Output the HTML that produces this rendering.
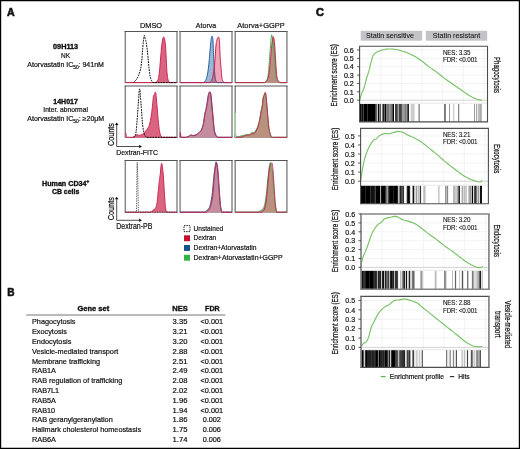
<!DOCTYPE html>
<html><head><meta charset="utf-8"><style>
html,body{margin:0;padding:0;background:#fff;}
svg{display:block;will-change:transform;}
text[transform]{stroke-width:0.22px;}
text[font-weight="bold"]{stroke-width:0.35px;}
text{font-family:"Liberation Sans", sans-serif;fill:#111;stroke:#111;stroke-width:0.2px;}
</style></head><body>
<svg width="520" height="449" viewBox="0 0 520 449">
<rect width="520" height="449" fill="#fff"/>
<path d="M0,0H520V1.2H0Z M0,0H1.2V449H0Z M518.8,0H520V449H518.8Z M0,447.8H520V449H0Z" fill="#000"/>
<text x="7" y="16" font-size="11.2" font-weight="bold" textLength="7.7" lengthAdjust="spacingAndGlyphs" style="stroke-width:0.6px">A</text>
<text x="7.2" y="296.2" font-size="11.2" font-weight="bold" textLength="7.3" lengthAdjust="spacingAndGlyphs" style="stroke-width:0.6px">B</text>
<text x="316" y="16.2" font-size="11.2" font-weight="bold" textLength="7.9" lengthAdjust="spacingAndGlyphs" style="stroke-width:0.6px">C</text>
<text x="65.6" y="49.1" font-size="7" font-weight="bold" text-anchor="middle" textLength="25.1" lengthAdjust="spacingAndGlyphs">09H113</text>
<text x="65.6" y="57.7" font-size="7" text-anchor="middle" textLength="9.0" lengthAdjust="spacingAndGlyphs">NK</text>
<text x="27.3" y="66.8" font-size="7" textLength="76.6" lengthAdjust="spacingAndGlyphs">Atorvastatin IC<tspan font-size="4.8" dy="1.9">50</tspan><tspan dy="-1.9">: 941nM</tspan></text>
<text x="65.6" y="103.9" font-size="7" font-weight="bold" text-anchor="middle" textLength="24.6" lengthAdjust="spacingAndGlyphs">14H017</text>
<text x="65.6" y="112.4" font-size="7" text-anchor="middle" textLength="44.6" lengthAdjust="spacingAndGlyphs">Inter. abnormal</text>
<text x="27.3" y="121.3" font-size="7" textLength="76.9" lengthAdjust="spacingAndGlyphs">Atorvastatin IC<tspan font-size="4.8" dy="1.9">50</tspan><tspan dy="-1.9">: ≥20μM</tspan></text>
<text x="42" y="185.8" font-size="7" font-weight="bold" textLength="47.2" lengthAdjust="spacingAndGlyphs">Human CD34<tspan font-size="4.5" dy="-2.6">+</tspan></text>
<text x="65.6" y="194.3" font-size="7" font-weight="bold" text-anchor="middle" textLength="27.4" lengthAdjust="spacingAndGlyphs">CB cells</text>
<text x="151" y="27.9" font-size="7.7" text-anchor="middle" textLength="22.2" lengthAdjust="spacingAndGlyphs">DMSO</text>
<text x="206" y="27.9" font-size="7.7" text-anchor="middle" textLength="20.3" lengthAdjust="spacingAndGlyphs">Atorva</text>
<text x="261" y="27.9" font-size="7.7" text-anchor="middle" textLength="47.3" lengthAdjust="spacingAndGlyphs">Atorva+GGPP</text>
<path d="M125.3,82.6 V31.45" stroke="#8a8a8a" stroke-width="1.5" fill="none"/>
<path d="M177.0,82.6 V31.45" stroke="#8a8a8a" stroke-width="1.5" fill="none"/>
<path d="M124.55,31.45 H177.75" stroke="#555" stroke-width="1.05" fill="none"/>
<path d="M124.55,82.6 H177.75" stroke="#8a8a8a" stroke-width="1.0" fill="none"/>
<path d="M180.1,82.6 V31.45" stroke="#8a8a8a" stroke-width="1.5" fill="none"/>
<path d="M232.0,82.6 V31.45" stroke="#8a8a8a" stroke-width="1.5" fill="none"/>
<path d="M179.35,31.45 H232.75" stroke="#555" stroke-width="1.05" fill="none"/>
<path d="M179.35,82.6 H232.75" stroke="#8a8a8a" stroke-width="1.0" fill="none"/>
<path d="M235.2,82.6 V31.45" stroke="#8a8a8a" stroke-width="1.5" fill="none"/>
<path d="M286.9,82.6 V31.45" stroke="#8a8a8a" stroke-width="1.5" fill="none"/>
<path d="M234.45,31.45 H287.65" stroke="#555" stroke-width="1.05" fill="none"/>
<path d="M234.45,82.6 H287.65" stroke="#8a8a8a" stroke-width="1.0" fill="none"/>
<path d="M125.3,137.35 V85.9" stroke="#8a8a8a" stroke-width="1.5" fill="none"/>
<path d="M177.0,137.35 V85.9" stroke="#8a8a8a" stroke-width="1.5" fill="none"/>
<path d="M124.55,85.9 H177.75" stroke="#555" stroke-width="1.05" fill="none"/>
<path d="M124.55,137.35 H177.75" stroke="#8a8a8a" stroke-width="1.0" fill="none"/>
<path d="M180.1,137.35 V85.9" stroke="#8a8a8a" stroke-width="1.5" fill="none"/>
<path d="M232.0,137.35 V85.9" stroke="#8a8a8a" stroke-width="1.5" fill="none"/>
<path d="M179.35,85.9 H232.75" stroke="#555" stroke-width="1.05" fill="none"/>
<path d="M179.35,137.35 H232.75" stroke="#8a8a8a" stroke-width="1.0" fill="none"/>
<path d="M235.2,137.35 V85.9" stroke="#8a8a8a" stroke-width="1.5" fill="none"/>
<path d="M286.9,137.35 V85.9" stroke="#8a8a8a" stroke-width="1.5" fill="none"/>
<path d="M234.45,85.9 H287.65" stroke="#555" stroke-width="1.05" fill="none"/>
<path d="M234.45,137.35 H287.65" stroke="#8a8a8a" stroke-width="1.0" fill="none"/>
<path d="M125.3,212.2 V160.5" stroke="#8a8a8a" stroke-width="1.5" fill="none"/>
<path d="M177.0,212.2 V160.5" stroke="#8a8a8a" stroke-width="1.5" fill="none"/>
<path d="M124.55,160.5 H177.75" stroke="#555" stroke-width="1.05" fill="none"/>
<path d="M124.55,212.2 H177.75" stroke="#8a8a8a" stroke-width="1.0" fill="none"/>
<path d="M180.1,212.2 V160.5" stroke="#8a8a8a" stroke-width="1.5" fill="none"/>
<path d="M232.0,212.2 V160.5" stroke="#8a8a8a" stroke-width="1.5" fill="none"/>
<path d="M179.35,160.5 H232.75" stroke="#555" stroke-width="1.05" fill="none"/>
<path d="M179.35,212.2 H232.75" stroke="#8a8a8a" stroke-width="1.0" fill="none"/>
<path d="M235.2,212.2 V160.5" stroke="#8a8a8a" stroke-width="1.5" fill="none"/>
<path d="M286.9,212.2 V160.5" stroke="#8a8a8a" stroke-width="1.5" fill="none"/>
<path d="M234.45,160.5 H287.65" stroke="#555" stroke-width="1.05" fill="none"/>
<path d="M234.45,212.2 H287.65" stroke="#8a8a8a" stroke-width="1.0" fill="none"/>
<path d="M125.30,82.60 L155.90,82.60 L156.15,82.31 L156.50,81.96 L156.91,81.52 L157.34,80.96 L157.75,80.27 L158.10,79.40 L158.38,78.41 L158.63,77.31 L158.85,76.08 L159.06,74.66 L159.28,73.02 L159.50,71.10 L159.74,68.77 L159.97,66.03 L160.21,63.07 L160.45,60.06 L160.68,57.17 L160.90,54.60 L161.11,52.29 L161.30,50.10 L161.49,48.04 L161.69,46.12 L161.88,44.37 L162.10,42.80 L162.33,41.34 L162.57,39.96 L162.82,38.74 L163.08,37.77 L163.34,37.13 L163.60,36.90 L163.87,37.13 L164.16,37.77 L164.44,38.74 L164.72,39.96 L164.98,41.34 L165.20,42.80 L165.38,44.38 L165.53,46.17 L165.65,48.11 L165.76,50.19 L165.88,52.36 L166.00,54.60 L166.13,57.02 L166.26,59.68 L166.39,62.43 L166.52,65.14 L166.66,67.68 L166.80,69.90 L166.95,71.81 L167.10,73.53 L167.26,75.07 L167.42,76.45 L167.60,77.69 L167.80,78.80 L168.04,79.77 L168.32,80.59 L168.61,81.26 L168.89,81.80 L169.13,82.25 L169.30,82.60 L177.00,82.60 L177.0,82.89999999999999 L125.3,82.89999999999999 Z" fill="#da6480"/>
<path d="M125.30,82.60 L155.90,82.60 L156.15,82.31 L156.50,81.96 L156.91,81.52 L157.34,80.96 L157.75,80.27 L158.10,79.40 L158.38,78.41 L158.63,77.31 L158.85,76.08 L159.06,74.66 L159.28,73.02 L159.50,71.10 L159.74,68.77 L159.97,66.03 L160.21,63.07 L160.45,60.06 L160.68,57.17 L160.90,54.60 L161.11,52.29 L161.30,50.10 L161.49,48.04 L161.69,46.12 L161.88,44.37 L162.10,42.80 L162.33,41.34 L162.57,39.96 L162.82,38.74 L163.08,37.77 L163.34,37.13 L163.60,36.90 L163.87,37.13 L164.16,37.77 L164.44,38.74 L164.72,39.96 L164.98,41.34 L165.20,42.80 L165.38,44.38 L165.53,46.17 L165.65,48.11 L165.76,50.19 L165.88,52.36 L166.00,54.60 L166.13,57.02 L166.26,59.68 L166.39,62.43 L166.52,65.14 L166.66,67.68 L166.80,69.90 L166.95,71.81 L167.10,73.53 L167.26,75.07 L167.42,76.45 L167.60,77.69 L167.80,78.80 L168.04,79.77 L168.32,80.59 L168.61,81.26 L168.89,81.80 L169.13,82.25 L169.30,82.60 L177.00,82.60" fill="none" stroke="#cc2450" stroke-width="1.0" stroke-linejoin="round"/>
<path d="M133.50,82.60 L133.83,82.27 L134.30,81.83 L134.86,81.29 L135.44,80.70 L136.01,80.06 L136.50,79.40 L136.93,78.72 L137.34,77.99 L137.72,77.22 L138.10,76.41 L138.45,75.57 L138.80,74.70 L139.14,73.81 L139.46,72.91 L139.77,71.97 L140.06,70.99 L140.34,69.94 L140.60,68.80 L140.84,67.60 L141.06,66.34 L141.26,65.02 L141.44,63.61 L141.62,62.11 L141.80,60.50 L141.97,58.71 L142.12,56.73 L142.27,54.66 L142.41,52.57 L142.55,50.56 L142.70,48.70 L142.85,46.95 L143.01,45.22 L143.17,43.57 L143.33,42.03 L143.47,40.66 L143.60,39.50 L143.71,38.58 L143.80,37.87 L143.89,37.32 L143.96,36.89 L144.03,36.53 L144.10,36.20 L144.16,35.91 L144.21,35.69 L144.26,35.54 L144.30,35.46 L144.35,35.45 L144.40,35.50 L144.46,35.63 L144.51,35.86 L144.58,36.14 L144.64,36.48 L144.71,36.84 L144.80,37.20 L144.90,37.59 L145.01,38.01 L145.14,38.47 L145.26,38.93 L145.39,39.38 L145.50,39.80 L145.60,40.14 L145.69,40.40 L145.78,40.64 L145.87,40.95 L145.98,41.38 L146.10,42.00 L146.24,42.80 L146.40,43.71 L146.56,44.75 L146.74,45.92 L146.92,47.24 L147.10,48.70 L147.29,50.41 L147.50,52.39 L147.71,54.50 L147.92,56.64 L148.12,58.68 L148.30,60.50 L148.45,62.10 L148.59,63.57 L148.71,64.95 L148.83,66.26 L148.96,67.53 L149.10,68.80 L149.25,70.07 L149.41,71.33 L149.58,72.56 L149.75,73.72 L149.93,74.81 L150.10,75.80 L150.27,76.68 L150.43,77.47 L150.60,78.17 L150.78,78.82 L150.97,79.42 L151.20,80.00 L151.48,80.56 L151.81,81.08 L152.17,81.56 L152.51,81.99 L152.80,82.34 L153.00,82.60 L177.00,82.60" fill="none" stroke="#000" stroke-width="1.0" stroke-dasharray="1.8 0.9" stroke-linejoin="round"/>
<path d="M180.10,82.60 L203.90,82.60 L204.17,82.23 L204.55,81.76 L204.99,81.18 L205.46,80.50 L205.91,79.70 L206.30,78.80 L206.63,77.78 L206.94,76.63 L207.23,75.38 L207.50,74.03 L207.75,72.60 L208.00,71.10 L208.23,69.52 L208.44,67.83 L208.64,66.06 L208.83,64.23 L209.02,62.37 L209.20,60.50 L209.38,58.56 L209.56,56.53 L209.72,54.46 L209.89,52.42 L210.05,50.48 L210.20,48.70 L210.34,47.07 L210.48,45.52 L210.61,44.07 L210.73,42.73 L210.86,41.50 L211.00,40.40 L211.14,39.39 L211.29,38.46 L211.44,37.64 L211.59,36.99 L211.74,36.52 L211.90,36.30 L212.07,36.32 L212.25,36.54 L212.43,36.96 L212.61,37.56 L212.77,38.35 L212.90,39.30 L213.00,40.47 L213.07,41.87 L213.12,43.45 L213.17,45.15 L213.23,46.92 L213.30,48.70 L213.39,50.54 L213.49,52.50 L213.59,54.52 L213.69,56.57 L213.80,58.58 L213.90,60.50 L214.00,62.36 L214.09,64.21 L214.17,66.02 L214.27,67.78 L214.38,69.48 L214.50,71.10 L214.64,72.68 L214.79,74.23 L214.95,75.71 L215.12,77.10 L215.31,78.34 L215.50,79.40 L215.73,80.27 L215.99,80.96 L216.26,81.52 L216.52,81.96 L216.74,82.31 L216.90,82.60 L232.00,82.60 L232.0,82.89999999999999 L180.1,82.89999999999999 Z" fill="rgb(30,95,160)" fill-opacity="0.45"/>
<path d="M180.10,82.60 L203.90,82.60 L204.17,82.23 L204.55,81.76 L204.99,81.18 L205.46,80.50 L205.91,79.70 L206.30,78.80 L206.63,77.78 L206.94,76.63 L207.23,75.38 L207.50,74.03 L207.75,72.60 L208.00,71.10 L208.23,69.52 L208.44,67.83 L208.64,66.06 L208.83,64.23 L209.02,62.37 L209.20,60.50 L209.38,58.56 L209.56,56.53 L209.72,54.46 L209.89,52.42 L210.05,50.48 L210.20,48.70 L210.34,47.07 L210.48,45.52 L210.61,44.07 L210.73,42.73 L210.86,41.50 L211.00,40.40 L211.14,39.39 L211.29,38.46 L211.44,37.64 L211.59,36.99 L211.74,36.52 L211.90,36.30 L212.07,36.32 L212.25,36.54 L212.43,36.96 L212.61,37.56 L212.77,38.35 L212.90,39.30 L213.00,40.47 L213.07,41.87 L213.12,43.45 L213.17,45.15 L213.23,46.92 L213.30,48.70 L213.39,50.54 L213.49,52.50 L213.59,54.52 L213.69,56.57 L213.80,58.58 L213.90,60.50 L214.00,62.36 L214.09,64.21 L214.17,66.02 L214.27,67.78 L214.38,69.48 L214.50,71.10 L214.64,72.68 L214.79,74.23 L214.95,75.71 L215.12,77.10 L215.31,78.34 L215.50,79.40 L215.73,80.27 L215.99,80.96 L216.26,81.52 L216.52,81.96 L216.74,82.31 L216.90,82.60 L232.00,82.60" fill="none" stroke="#1f5e9e" stroke-width="1.0" stroke-linejoin="round"/>
<path d="M180.10,82.60 L209.80,82.60 L210.07,82.24 L210.45,81.80 L210.89,81.25 L211.36,80.58 L211.81,79.77 L212.20,78.80 L212.53,77.66 L212.84,76.35 L213.12,74.90 L213.40,73.34 L213.65,71.70 L213.90,70.00 L214.13,68.21 L214.35,66.29 L214.56,64.29 L214.75,62.25 L214.93,60.21 L215.10,58.20 L215.25,56.16 L215.39,54.04 L215.51,51.91 L215.63,49.86 L215.76,47.97 L215.90,46.30 L216.05,44.87 L216.20,43.63 L216.36,42.53 L216.53,41.56 L216.71,40.69 L216.90,39.90 L217.11,39.17 L217.35,38.51 L217.60,37.96 L217.85,37.53 L218.09,37.24 L218.30,37.10 L218.50,37.09 L218.68,37.20 L218.86,37.44 L219.02,37.85 L219.17,38.46 L219.30,39.30 L219.41,40.42 L219.50,41.81 L219.58,43.40 L219.64,45.12 L219.72,46.91 L219.80,48.70 L219.89,50.54 L219.98,52.50 L220.08,54.52 L220.17,56.57 L220.28,58.58 L220.40,60.50 L220.53,62.36 L220.68,64.21 L220.83,66.02 L220.99,67.78 L221.15,69.48 L221.30,71.10 L221.44,72.68 L221.57,74.23 L221.69,75.71 L221.83,77.10 L222.00,78.34 L222.20,79.40 L222.47,80.27 L222.80,80.96 L223.16,81.52 L223.50,81.96 L223.79,82.31 L224.00,82.60 L232.00,82.60 L232.0,82.89999999999999 L180.1,82.89999999999999 Z" fill="rgb(210,30,75)" fill-opacity="0.4"/>
<path d="M180.10,82.60 L209.80,82.60 L210.07,82.24 L210.45,81.80 L210.89,81.25 L211.36,80.58 L211.81,79.77 L212.20,78.80 L212.53,77.66 L212.84,76.35 L213.12,74.90 L213.40,73.34 L213.65,71.70 L213.90,70.00 L214.13,68.21 L214.35,66.29 L214.56,64.29 L214.75,62.25 L214.93,60.21 L215.10,58.20 L215.25,56.16 L215.39,54.04 L215.51,51.91 L215.63,49.86 L215.76,47.97 L215.90,46.30 L216.05,44.87 L216.20,43.63 L216.36,42.53 L216.53,41.56 L216.71,40.69 L216.90,39.90 L217.11,39.17 L217.35,38.51 L217.60,37.96 L217.85,37.53 L218.09,37.24 L218.30,37.10 L218.50,37.09 L218.68,37.20 L218.86,37.44 L219.02,37.85 L219.17,38.46 L219.30,39.30 L219.41,40.42 L219.50,41.81 L219.58,43.40 L219.64,45.12 L219.72,46.91 L219.80,48.70 L219.89,50.54 L219.98,52.50 L220.08,54.52 L220.17,56.57 L220.28,58.58 L220.40,60.50 L220.53,62.36 L220.68,64.21 L220.83,66.02 L220.99,67.78 L221.15,69.48 L221.30,71.10 L221.44,72.68 L221.57,74.23 L221.69,75.71 L221.83,77.10 L222.00,78.34 L222.20,79.40 L222.47,80.27 L222.80,80.96 L223.16,81.52 L223.50,81.96 L223.79,82.31 L224.00,82.60 L232.00,82.60" fill="none" stroke="#cc2450" stroke-width="1.0" stroke-linejoin="round"/>
<path d="M235.20,82.60 L264.40,82.60 L264.67,82.41 L265.04,82.18 L265.49,81.89 L265.96,81.54 L266.41,81.11 L266.80,80.60 L267.14,80.03 L267.47,79.41 L267.78,78.72 L268.07,77.92 L268.34,76.99 L268.60,75.90 L268.84,74.62 L269.05,73.17 L269.24,71.59 L269.43,69.91 L269.61,68.17 L269.80,66.40 L269.99,64.57 L270.17,62.64 L270.35,60.64 L270.53,58.62 L270.71,56.59 L270.90,54.60 L271.09,52.57 L271.29,50.46 L271.49,48.34 L271.70,46.31 L271.90,44.44 L272.10,42.80 L272.30,41.31 L272.50,39.89 L272.70,38.63 L272.90,37.62 L273.10,36.94 L273.30,36.70 L273.50,36.94 L273.71,37.62 L273.93,38.63 L274.13,39.89 L274.32,41.31 L274.50,42.80 L274.66,44.44 L274.80,46.31 L274.93,48.34 L275.06,50.46 L275.18,52.57 L275.30,54.60 L275.42,56.59 L275.54,58.62 L275.65,60.64 L275.76,62.64 L275.88,64.57 L276.00,66.40 L276.12,68.17 L276.24,69.91 L276.37,71.59 L276.50,73.17 L276.64,74.62 L276.80,75.90 L276.96,76.99 L277.13,77.92 L277.30,78.72 L277.50,79.41 L277.73,80.03 L278.00,80.60 L278.36,81.11 L278.80,81.54 L279.27,81.89 L279.73,82.18 L280.12,82.41 L280.40,82.60 L286.90,82.60 L286.9,82.89999999999999 L235.2,82.89999999999999 Z" fill="#b68f80"/>
<path d="M235.20,82.60 L265.00,82.60 L265.27,82.23 L265.67,81.76 L266.12,81.18 L266.60,80.50 L267.04,79.70 L267.40,78.80 L267.67,77.78 L267.90,76.63 L268.10,75.38 L268.27,74.03 L268.44,72.60 L268.60,71.10 L268.76,69.52 L268.89,67.83 L269.02,66.06 L269.14,64.23 L269.27,62.37 L269.40,60.50 L269.54,58.62 L269.68,56.72 L269.82,54.79 L269.97,52.81 L270.13,50.78 L270.30,48.70 L270.48,46.32 L270.68,43.61 L270.89,40.86 L271.10,38.33 L271.30,36.32 L271.50,35.10 L271.69,34.80 L271.87,35.22 L272.04,36.16 L272.22,37.40 L272.41,38.75 L272.60,40.00 L272.81,41.19 L273.03,42.50 L273.26,43.92 L273.48,45.43 L273.70,47.03 L273.90,48.70 L274.09,50.50 L274.26,52.45 L274.43,54.48 L274.59,56.54 L274.75,58.57 L274.90,60.50 L275.04,62.37 L275.18,64.23 L275.31,66.06 L275.43,67.83 L275.56,69.52 L275.70,71.10 L275.82,72.60 L275.92,74.03 L276.02,75.38 L276.15,76.63 L276.33,77.78 L276.60,78.80 L277.00,79.70 L277.53,80.50 L278.11,81.18 L278.67,81.76 L279.16,82.23 L279.50,82.60 L286.90,82.60" fill="none" stroke="#35b34a" stroke-width="1.0" stroke-linejoin="round"/>
<path d="M235.20,82.60 L264.40,82.60 L264.67,82.41 L265.04,82.18 L265.49,81.89 L265.96,81.54 L266.41,81.11 L266.80,80.60 L267.14,80.03 L267.47,79.41 L267.78,78.72 L268.07,77.92 L268.34,76.99 L268.60,75.90 L268.84,74.62 L269.05,73.17 L269.24,71.59 L269.43,69.91 L269.61,68.17 L269.80,66.40 L269.99,64.57 L270.17,62.64 L270.35,60.64 L270.53,58.62 L270.71,56.59 L270.90,54.60 L271.09,52.57 L271.29,50.46 L271.49,48.34 L271.70,46.31 L271.90,44.44 L272.10,42.80 L272.30,41.31 L272.50,39.89 L272.70,38.63 L272.90,37.62 L273.10,36.94 L273.30,36.70 L273.50,36.94 L273.71,37.62 L273.93,38.63 L274.13,39.89 L274.32,41.31 L274.50,42.80 L274.66,44.44 L274.80,46.31 L274.93,48.34 L275.06,50.46 L275.18,52.57 L275.30,54.60 L275.42,56.59 L275.54,58.62 L275.65,60.64 L275.76,62.64 L275.88,64.57 L276.00,66.40 L276.12,68.17 L276.24,69.91 L276.37,71.59 L276.50,73.17 L276.64,74.62 L276.80,75.90 L276.96,76.99 L277.13,77.92 L277.30,78.72 L277.50,79.41 L277.73,80.03 L278.00,80.60 L278.36,81.11 L278.80,81.54 L279.27,81.89 L279.73,82.18 L280.12,82.41 L280.40,82.60 L286.90,82.60" fill="none" stroke="#cc2450" stroke-width="1.0" stroke-linejoin="round"/>
<path d="M125.50,132.40 L125.54,132.49 L125.59,132.58 L125.66,132.71 L125.73,132.89 L125.81,133.14 L125.90,133.50 L125.98,134.03 L126.06,134.72 L126.14,135.49 L126.25,136.25 L126.40,136.90 L126.60,137.35 L126.84,137.35 L127.10,137.35 L127.40,137.35 L127.76,137.35 L128.18,137.35 L128.70,137.35 L129.36,137.35 L130.16,137.35 L131.03,137.35 L131.91,137.35 L132.72,137.35 L133.40,137.35 L133.95,137.11 L134.41,136.76 L134.82,136.36 L135.17,135.95 L135.50,135.58 L135.80,135.30 L136.06,135.10 L136.25,134.95 L136.41,134.83 L136.56,134.76 L136.75,134.71 L137.00,134.70 L137.32,134.75 L137.68,134.86 L138.08,135.01 L138.49,135.15 L138.90,135.26 L139.30,135.30 L139.69,135.27 L140.09,135.19 L140.49,135.07 L140.90,134.93 L141.30,134.77 L141.70,134.60 L142.11,134.42 L142.53,134.22 L142.94,134.01 L143.35,133.77 L143.74,133.50 L144.10,133.20 L144.42,132.86 L144.71,132.47 L144.99,132.06 L145.25,131.63 L145.52,131.21 L145.80,130.80 L146.09,130.43 L146.39,130.07 L146.69,129.72 L147.00,129.36 L147.30,128.96 L147.60,128.50 L147.90,128.01 L148.21,127.52 L148.52,126.99 L148.82,126.40 L149.12,125.71 L149.40,124.90 L149.67,123.95 L149.93,122.87 L150.19,121.69 L150.43,120.46 L150.67,119.18 L150.90,117.90 L151.12,116.59 L151.34,115.23 L151.54,113.83 L151.74,112.41 L151.93,111.00 L152.10,109.60 L152.26,108.18 L152.40,106.72 L152.54,105.26 L152.66,103.84 L152.78,102.51 L152.90,101.30 L153.01,100.20 L153.10,99.18 L153.19,98.24 L153.29,97.39 L153.38,96.64 L153.50,96.00 L153.63,95.51 L153.77,95.19 L153.93,94.96 L154.08,94.77 L154.24,94.57 L154.40,94.30 L154.56,93.90 L154.74,93.40 L154.91,92.89 L155.09,92.44 L155.25,92.15 L155.40,92.10 L155.53,92.25 L155.65,92.52 L155.76,92.94 L155.86,93.55 L155.98,94.36 L156.10,95.40 L156.24,96.74 L156.38,98.38 L156.53,100.22 L156.69,102.18 L156.84,104.17 L157.00,106.10 L157.16,108.04 L157.33,110.09 L157.51,112.16 L157.68,114.19 L157.84,116.13 L158.00,117.90 L158.14,119.50 L158.28,120.99 L158.41,122.37 L158.53,123.67 L158.66,124.91 L158.80,126.10 L158.94,127.24 L159.09,128.32 L159.23,129.34 L159.38,130.29 L159.54,131.18 L159.70,132.00 L159.87,132.75 L160.04,133.44 L160.21,134.06 L160.40,134.62 L160.59,135.13 L160.80,135.60 L161.04,136.02 L161.33,136.39 L161.62,136.70 L161.90,136.96 L162.13,137.18 L162.30,137.35 L177.00,137.35 L177.0,137.65 L125.3,137.65 Z" fill="#da6480"/>
<path d="M125.50,132.40 L125.54,132.49 L125.59,132.58 L125.66,132.71 L125.73,132.89 L125.81,133.14 L125.90,133.50 L125.98,134.03 L126.06,134.72 L126.14,135.49 L126.25,136.25 L126.40,136.90 L126.60,137.35 L126.84,137.35 L127.10,137.35 L127.40,137.35 L127.76,137.35 L128.18,137.35 L128.70,137.35 L129.36,137.35 L130.16,137.35 L131.03,137.35 L131.91,137.35 L132.72,137.35 L133.40,137.35 L133.95,137.11 L134.41,136.76 L134.82,136.36 L135.17,135.95 L135.50,135.58 L135.80,135.30 L136.06,135.10 L136.25,134.95 L136.41,134.83 L136.56,134.76 L136.75,134.71 L137.00,134.70 L137.32,134.75 L137.68,134.86 L138.08,135.01 L138.49,135.15 L138.90,135.26 L139.30,135.30 L139.69,135.27 L140.09,135.19 L140.49,135.07 L140.90,134.93 L141.30,134.77 L141.70,134.60 L142.11,134.42 L142.53,134.22 L142.94,134.01 L143.35,133.77 L143.74,133.50 L144.10,133.20 L144.42,132.86 L144.71,132.47 L144.99,132.06 L145.25,131.63 L145.52,131.21 L145.80,130.80 L146.09,130.43 L146.39,130.07 L146.69,129.72 L147.00,129.36 L147.30,128.96 L147.60,128.50 L147.90,128.01 L148.21,127.52 L148.52,126.99 L148.82,126.40 L149.12,125.71 L149.40,124.90 L149.67,123.95 L149.93,122.87 L150.19,121.69 L150.43,120.46 L150.67,119.18 L150.90,117.90 L151.12,116.59 L151.34,115.23 L151.54,113.83 L151.74,112.41 L151.93,111.00 L152.10,109.60 L152.26,108.18 L152.40,106.72 L152.54,105.26 L152.66,103.84 L152.78,102.51 L152.90,101.30 L153.01,100.20 L153.10,99.18 L153.19,98.24 L153.29,97.39 L153.38,96.64 L153.50,96.00 L153.63,95.51 L153.77,95.19 L153.93,94.96 L154.08,94.77 L154.24,94.57 L154.40,94.30 L154.56,93.90 L154.74,93.40 L154.91,92.89 L155.09,92.44 L155.25,92.15 L155.40,92.10 L155.53,92.25 L155.65,92.52 L155.76,92.94 L155.86,93.55 L155.98,94.36 L156.10,95.40 L156.24,96.74 L156.38,98.38 L156.53,100.22 L156.69,102.18 L156.84,104.17 L157.00,106.10 L157.16,108.04 L157.33,110.09 L157.51,112.16 L157.68,114.19 L157.84,116.13 L158.00,117.90 L158.14,119.50 L158.28,120.99 L158.41,122.37 L158.53,123.67 L158.66,124.91 L158.80,126.10 L158.94,127.24 L159.09,128.32 L159.23,129.34 L159.38,130.29 L159.54,131.18 L159.70,132.00 L159.87,132.75 L160.04,133.44 L160.21,134.06 L160.40,134.62 L160.59,135.13 L160.80,135.60 L161.04,136.02 L161.33,136.39 L161.62,136.70 L161.90,136.96 L162.13,137.18 L162.30,137.35 L177.00,137.35" fill="none" stroke="#cc2450" stroke-width="1.0" stroke-linejoin="round"/>
<path d="M133.00,137.35 L133.25,137.19 L133.61,137.01 L134.04,136.77 L134.47,136.47 L134.88,136.09 L135.20,135.60 L135.44,135.03 L135.63,134.40 L135.79,133.68 L135.93,132.85 L136.06,131.90 L136.20,130.80 L136.34,129.53 L136.48,128.10 L136.61,126.54 L136.73,124.88 L136.86,123.16 L137.00,121.40 L137.15,119.57 L137.30,117.64 L137.45,115.65 L137.60,113.62 L137.75,111.59 L137.90,109.60 L138.04,107.58 L138.19,105.50 L138.32,103.42 L138.46,101.40 L138.59,99.51 L138.70,97.80 L138.80,96.26 L138.89,94.82 L138.97,93.51 L139.05,92.34 L139.13,91.33 L139.20,90.50 L139.27,89.87 L139.34,89.43 L139.40,89.14 L139.46,88.99 L139.53,88.92 L139.60,88.90 L139.68,88.92 L139.76,88.99 L139.85,89.14 L139.94,89.43 L140.02,89.87 L140.10,90.50 L140.17,91.33 L140.22,92.34 L140.27,93.51 L140.33,94.82 L140.40,96.26 L140.50,97.80 L140.63,99.51 L140.80,101.40 L140.97,103.42 L141.16,105.50 L141.34,107.58 L141.50,109.60 L141.64,111.59 L141.77,113.62 L141.89,115.65 L142.01,117.64 L142.15,119.57 L142.30,121.40 L142.47,123.16 L142.66,124.88 L142.86,126.54 L143.06,128.10 L143.28,129.53 L143.50,130.80 L143.73,131.90 L143.96,132.85 L144.20,133.68 L144.45,134.40 L144.72,135.03 L145.00,135.60 L145.33,136.09 L145.70,136.47 L146.09,136.78 L146.46,137.01 L146.78,137.19 L147.00,137.35 L177.00,137.35" fill="none" stroke="#000" stroke-width="1.0" stroke-dasharray="1.8 0.9" stroke-linejoin="round"/>
<path d="M180.10,137.35 L180.50,132.60 L180.55,133.17 L180.59,134.01 L180.66,134.97 L180.79,135.94 L181.02,136.78 L181.40,137.35 L181.97,137.35 L182.71,137.35 L183.55,137.35 L184.44,137.35 L185.31,137.35 L186.10,137.35 L186.85,137.15 L187.62,136.85 L188.37,136.51 L189.07,136.16 L189.69,135.85 L190.20,135.60 L190.56,135.42 L190.79,135.27 L190.94,135.15 L191.06,135.07 L191.20,135.02 L191.40,135.00 L191.65,135.05 L191.89,135.17 L192.16,135.32 L192.45,135.47 L192.79,135.58 L193.20,135.60 L193.70,135.54 L194.28,135.42 L194.91,135.26 L195.55,135.07 L196.16,134.84 L196.70,134.60 L197.17,134.32 L197.61,133.98 L198.01,133.61 L198.39,133.24 L198.75,132.90 L199.10,132.60 L199.42,132.39 L199.71,132.25 L199.99,132.13 L200.25,131.99 L200.52,131.76 L200.80,131.40 L201.10,130.89 L201.41,130.27 L201.73,129.57 L202.04,128.82 L202.33,128.05 L202.60,127.30 L202.83,126.59 L203.04,125.91 L203.24,125.21 L203.42,124.46 L203.61,123.60 L203.80,122.60 L204.00,121.40 L204.19,120.01 L204.39,118.52 L204.59,117.02 L204.79,115.59 L205.00,114.30 L205.22,113.19 L205.46,112.20 L205.70,111.27 L205.94,110.37 L206.18,109.42 L206.40,108.40 L206.62,107.27 L206.83,106.08 L207.03,104.85 L207.23,103.62 L207.42,102.43 L207.60,101.30 L207.77,100.21 L207.92,99.13 L208.07,98.09 L208.21,97.10 L208.35,96.20 L208.50,95.40 L208.65,94.71 L208.80,94.12 L208.95,93.61 L209.10,93.17 L209.25,92.80 L209.40,92.50 L209.55,92.25 L209.70,92.04 L209.86,91.91 L210.01,91.87 L210.16,91.92 L210.30,92.10 L210.44,92.36 L210.57,92.70 L210.70,93.13 L210.83,93.70 L210.96,94.45 L211.10,95.40 L211.24,96.61 L211.39,98.07 L211.54,99.69 L211.69,101.42 L211.84,103.18 L212.00,104.90 L212.16,106.62 L212.33,108.40 L212.51,110.21 L212.68,112.01 L212.84,113.79 L213.00,115.50 L213.14,117.17 L213.28,118.83 L213.41,120.46 L213.53,122.03 L213.66,123.52 L213.80,124.90 L213.94,126.18 L214.07,127.37 L214.21,128.47 L214.35,129.51 L214.51,130.48 L214.70,131.40 L214.91,132.26 L215.15,133.06 L215.40,133.80 L215.66,134.47 L215.93,135.07 L216.20,135.60 L216.49,136.05 L216.81,136.43 L217.14,136.74 L217.45,136.99 L217.71,137.19 L217.90,137.35 L232.00,137.35 L232.0,137.65 L180.1,137.65 Z" fill="#c48c9c"/>
<path d="M180.20,132.60 L180.25,133.17 L180.29,134.01 L180.36,134.97 L180.49,135.94 L180.72,136.78 L181.10,137.35 L181.67,137.35 L182.41,137.35 L183.25,137.35 L184.14,137.35 L185.01,137.35 L185.80,137.35 L186.55,137.15 L187.32,136.85 L188.07,136.51 L188.77,136.16 L189.39,135.85 L189.90,135.60 L190.26,135.42 L190.49,135.27 L190.64,135.15 L190.76,135.07 L190.90,135.02 L191.10,135.00 L191.35,135.05 L191.59,135.17 L191.86,135.32 L192.15,135.47 L192.49,135.58 L192.90,135.60 L193.40,135.54 L193.98,135.42 L194.61,135.26 L195.25,135.07 L195.86,134.84 L196.40,134.60 L196.87,134.32 L197.31,133.98 L197.71,133.61 L198.09,133.24 L198.45,132.90 L198.80,132.60 L199.12,132.39 L199.41,132.25 L199.69,132.13 L199.95,131.99 L200.22,131.76 L200.50,131.40 L200.80,130.89 L201.11,130.27 L201.43,129.57 L201.74,128.82 L202.03,128.05 L202.30,127.30 L202.53,126.59 L202.74,125.91 L202.94,125.21 L203.12,124.46 L203.31,123.60 L203.50,122.60 L203.70,121.40 L203.89,120.01 L204.09,118.52 L204.29,117.02 L204.49,115.59 L204.70,114.30 L204.92,113.19 L205.16,112.20 L205.40,111.27 L205.64,110.37 L205.88,109.42 L206.10,108.40 L206.32,107.27 L206.53,106.08 L206.73,104.85 L206.93,103.62 L207.12,102.43 L207.30,101.30 L207.47,100.21 L207.62,99.13 L207.77,98.09 L207.91,97.10 L208.05,96.20 L208.20,95.40 L208.35,94.71 L208.50,94.12 L208.65,93.61 L208.80,93.17 L208.95,92.80 L209.10,92.50 L209.25,92.25 L209.40,92.04 L209.56,91.91 L209.71,91.87 L209.86,91.92 L210.00,92.10 L210.14,92.36 L210.27,92.70 L210.40,93.13 L210.53,93.70 L210.66,94.45 L210.80,95.40 L210.94,96.61 L211.09,98.07 L211.24,99.69 L211.39,101.42 L211.54,103.18 L211.70,104.90 L211.86,106.62 L212.03,108.40 L212.21,110.21 L212.38,112.01 L212.54,113.79 L212.70,115.50 L212.84,117.17 L212.98,118.83 L213.11,120.46 L213.23,122.03 L213.36,123.52 L213.50,124.90 L213.64,126.18 L213.77,127.37 L213.91,128.47 L214.05,129.51 L214.21,130.48 L214.40,131.40 L214.61,132.26 L214.85,133.06 L215.10,133.80 L215.36,134.47 L215.63,135.07 L215.90,135.60 L216.19,136.05 L216.51,136.43 L216.84,136.74 L217.15,136.99 L217.41,137.19 L217.60,137.35 L232.00,137.35" fill="none" stroke="#1f5e9e" stroke-width="1.0" stroke-linejoin="round"/>
<path d="M180.10,137.35 L180.50,132.60 L180.55,133.17 L180.59,134.01 L180.66,134.97 L180.79,135.94 L181.02,136.78 L181.40,137.35 L181.97,137.35 L182.71,137.35 L183.55,137.35 L184.44,137.35 L185.31,137.35 L186.10,137.35 L186.85,137.15 L187.62,136.85 L188.37,136.51 L189.07,136.16 L189.69,135.85 L190.20,135.60 L190.56,135.42 L190.79,135.27 L190.94,135.15 L191.06,135.07 L191.20,135.02 L191.40,135.00 L191.65,135.05 L191.89,135.17 L192.16,135.32 L192.45,135.47 L192.79,135.58 L193.20,135.60 L193.70,135.54 L194.28,135.42 L194.91,135.26 L195.55,135.07 L196.16,134.84 L196.70,134.60 L197.17,134.32 L197.61,133.98 L198.01,133.61 L198.39,133.24 L198.75,132.90 L199.10,132.60 L199.42,132.39 L199.71,132.25 L199.99,132.13 L200.25,131.99 L200.52,131.76 L200.80,131.40 L201.10,130.89 L201.41,130.27 L201.73,129.57 L202.04,128.82 L202.33,128.05 L202.60,127.30 L202.83,126.59 L203.04,125.91 L203.24,125.21 L203.42,124.46 L203.61,123.60 L203.80,122.60 L204.00,121.40 L204.19,120.01 L204.39,118.52 L204.59,117.02 L204.79,115.59 L205.00,114.30 L205.22,113.19 L205.46,112.20 L205.70,111.27 L205.94,110.37 L206.18,109.42 L206.40,108.40 L206.62,107.27 L206.83,106.08 L207.03,104.85 L207.23,103.62 L207.42,102.43 L207.60,101.30 L207.77,100.21 L207.92,99.13 L208.07,98.09 L208.21,97.10 L208.35,96.20 L208.50,95.40 L208.65,94.71 L208.80,94.12 L208.95,93.61 L209.10,93.17 L209.25,92.80 L209.40,92.50 L209.55,92.25 L209.70,92.04 L209.86,91.91 L210.01,91.87 L210.16,91.92 L210.30,92.10 L210.44,92.36 L210.57,92.70 L210.70,93.13 L210.83,93.70 L210.96,94.45 L211.10,95.40 L211.24,96.61 L211.39,98.07 L211.54,99.69 L211.69,101.42 L211.84,103.18 L212.00,104.90 L212.16,106.62 L212.33,108.40 L212.51,110.21 L212.68,112.01 L212.84,113.79 L213.00,115.50 L213.14,117.17 L213.28,118.83 L213.41,120.46 L213.53,122.03 L213.66,123.52 L213.80,124.90 L213.94,126.18 L214.07,127.37 L214.21,128.47 L214.35,129.51 L214.51,130.48 L214.70,131.40 L214.91,132.26 L215.15,133.06 L215.40,133.80 L215.66,134.47 L215.93,135.07 L216.20,135.60 L216.49,136.05 L216.81,136.43 L217.14,136.74 L217.45,136.99 L217.71,137.19 L217.90,137.35 L232.00,137.35" fill="none" stroke="#cc2450" stroke-width="1.0" stroke-linejoin="round"/>
<path d="M235.20,137.35 L235.50,137.35 L236.12,137.20 L236.99,136.99 L238.01,136.75 L239.09,136.49 L240.15,136.23 L241.10,136.00 L241.95,135.78 L242.78,135.56 L243.58,135.33 L244.36,135.13 L245.10,134.95 L245.80,134.80 L246.46,134.72 L247.07,134.70 L247.66,134.71 L248.21,134.70 L248.76,134.64 L249.30,134.50 L249.84,134.23 L250.36,133.86 L250.88,133.44 L251.37,133.03 L251.85,132.66 L252.30,132.40 L252.72,132.32 L253.09,132.38 L253.45,132.50 L253.81,132.57 L254.18,132.51 L254.60,132.20 L255.07,131.63 L255.59,130.86 L256.13,129.94 L256.66,128.94 L257.16,127.91 L257.60,126.90 L257.97,125.91 L258.30,124.89 L258.59,123.84 L258.87,122.74 L259.13,121.60 L259.40,120.40 L259.67,119.11 L259.93,117.72 L260.17,116.28 L260.42,114.84 L260.66,113.43 L260.90,112.10 L261.14,110.87 L261.39,109.70 L261.63,108.57 L261.87,107.44 L262.09,106.30 L262.30,105.10 L262.49,103.78 L262.67,102.35 L262.84,100.89 L263.00,99.51 L263.15,98.28 L263.30,97.30 L263.44,96.62 L263.57,96.19 L263.70,95.91 L263.83,95.71 L263.96,95.50 L264.10,95.20 L264.26,94.75 L264.42,94.19 L264.59,93.63 L264.76,93.15 L264.93,92.84 L265.10,92.80 L265.27,93.00 L265.44,93.36 L265.61,93.89 L265.77,94.60 L265.94,95.50 L266.10,96.60 L266.25,97.96 L266.40,99.59 L266.55,101.40 L266.70,103.33 L266.85,105.29 L267.00,107.20 L267.16,109.14 L267.33,111.17 L267.51,113.24 L267.68,115.28 L267.84,117.22 L268.00,119.00 L268.14,120.61 L268.27,122.11 L268.39,123.52 L268.51,124.84 L268.65,126.10 L268.80,127.30 L268.97,128.44 L269.15,129.51 L269.34,130.51 L269.54,131.45 L269.76,132.35 L270.00,133.20 L270.26,134.04 L270.54,134.87 L270.83,135.64 L271.14,136.34 L271.46,136.92 L271.80,137.35 L272.18,137.35 L272.61,137.35 L273.06,137.35 L273.49,137.35 L273.84,137.35 L274.10,137.35 L286.90,137.35 L286.9,137.65 L235.2,137.65 Z" fill="#b8917f"/>
<path d="M235.20,137.35 L235.50,137.35 L236.12,137.20 L236.99,136.99 L238.01,136.75 L239.09,136.49 L240.15,136.23 L241.10,136.00 L241.95,135.78 L242.78,135.56 L243.58,135.33 L244.36,135.13 L245.10,134.95 L245.80,134.80 L246.46,134.72 L247.07,134.70 L247.66,134.71 L248.21,134.70 L248.76,134.64 L249.30,134.50 L249.84,134.23 L250.36,133.86 L250.88,133.44 L251.37,133.03 L251.85,132.66 L252.30,132.40 L252.72,132.32 L253.09,132.38 L253.45,132.50 L253.81,132.57 L254.18,132.51 L254.60,132.20 L255.07,131.63 L255.59,130.86 L256.13,129.94 L256.66,128.94 L257.16,127.91 L257.60,126.90 L257.97,125.91 L258.30,124.89 L258.59,123.84 L258.87,122.74 L259.13,121.60 L259.40,120.40 L259.67,119.11 L259.93,117.72 L260.17,116.28 L260.42,114.84 L260.66,113.43 L260.90,112.10 L261.14,110.87 L261.39,109.70 L261.63,108.57 L261.87,107.44 L262.09,106.30 L262.30,105.10 L262.49,103.78 L262.67,102.35 L262.84,100.89 L263.00,99.51 L263.15,98.28 L263.30,97.30 L263.44,96.62 L263.57,96.19 L263.70,95.91 L263.83,95.71 L263.96,95.50 L264.10,95.20 L264.26,94.75 L264.42,94.19 L264.59,93.63 L264.76,93.15 L264.93,92.84 L265.10,92.80 L265.27,93.00 L265.44,93.36 L265.61,93.89 L265.77,94.60 L265.94,95.50 L266.10,96.60 L266.25,97.96 L266.40,99.59 L266.55,101.40 L266.70,103.33 L266.85,105.29 L267.00,107.20 L267.16,109.14 L267.33,111.17 L267.51,113.24 L267.68,115.28 L267.84,117.22 L268.00,119.00 L268.14,120.61 L268.27,122.11 L268.39,123.52 L268.51,124.84 L268.65,126.10 L268.80,127.30 L268.97,128.44 L269.15,129.51 L269.34,130.51 L269.54,131.45 L269.76,132.35 L270.00,133.20 L270.26,134.04 L270.54,134.87 L270.83,135.64 L271.14,136.34 L271.46,136.92 L271.80,137.35 L272.18,137.35 L272.61,137.35 L273.06,137.35 L273.49,137.35 L273.84,137.35 L274.10,137.35 L286.90,137.35" fill="none" stroke="#35b34a" stroke-width="1.0" stroke-linejoin="round"/>
<path d="M235.20,137.35 L235.50,132.60 L235.55,133.17 L235.59,134.01 L235.66,134.97 L235.79,135.94 L236.02,136.78 L236.40,137.35 L236.96,137.35 L237.69,137.35 L238.51,137.35 L239.39,137.35 L240.27,137.35 L241.10,137.35 L241.90,137.11 L242.71,136.75 L243.52,136.34 L244.32,135.93 L245.09,135.56 L245.80,135.30 L246.46,135.16 L247.07,135.11 L247.66,135.11 L248.21,135.12 L248.76,135.09 L249.30,135.00 L249.84,134.82 L250.36,134.58 L250.88,134.31 L251.37,134.03 L251.85,133.79 L252.30,133.60 L252.72,133.53 L253.09,133.57 L253.45,133.64 L253.81,133.66 L254.18,133.54 L254.60,133.20 L255.07,132.61 L255.59,131.84 L256.13,130.93 L256.66,129.94 L257.16,128.91 L257.60,127.90 L257.97,126.91 L258.30,125.89 L258.59,124.84 L258.87,123.74 L259.13,122.60 L259.40,121.40 L259.67,120.11 L259.93,118.72 L260.17,117.28 L260.42,115.84 L260.66,114.43 L260.90,113.10 L261.14,111.87 L261.39,110.72 L261.63,109.60 L261.87,108.48 L262.09,107.33 L262.30,106.10 L262.49,104.72 L262.67,103.21 L262.84,101.66 L263.00,100.18 L263.15,98.86 L263.30,97.80 L263.44,97.06 L263.57,96.58 L263.69,96.26 L263.81,96.02 L263.95,95.76 L264.10,95.40 L264.28,94.86 L264.49,94.21 L264.70,93.54 L264.91,92.97 L265.12,92.58 L265.30,92.50 L265.46,92.70 L265.59,93.11 L265.72,93.71 L265.84,94.49 L265.97,95.46 L266.10,96.60 L266.24,97.98 L266.39,99.61 L266.54,101.42 L266.69,103.34 L266.84,105.29 L267.00,107.20 L267.16,109.14 L267.33,111.17 L267.51,113.24 L267.68,115.28 L267.84,117.22 L268.00,119.00 L268.14,120.61 L268.27,122.11 L268.39,123.52 L268.51,124.84 L268.65,126.10 L268.80,127.30 L268.97,128.44 L269.15,129.51 L269.34,130.51 L269.54,131.45 L269.76,132.35 L270.00,133.20 L270.26,134.04 L270.54,134.87 L270.83,135.64 L271.14,136.34 L271.46,136.92 L271.80,137.35 L272.18,137.35 L272.61,137.35 L273.06,137.35 L273.49,137.35 L273.84,137.35 L274.10,137.35 L286.90,137.35" fill="none" stroke="#cc2450" stroke-width="1.0" stroke-linejoin="round"/>
<line x1="235.5" y1="113" x2="235.5" y2="137.35" stroke="#8fd89a" stroke-width="1"/>
<path d="M125.30,212.20 L150.60,212.20 L150.80,212.04 L151.07,211.81 L151.39,211.54 L151.73,211.25 L152.08,210.96 L152.40,210.70 L152.71,210.46 L153.02,210.21 L153.34,209.96 L153.64,209.73 L153.93,209.50 L154.20,209.30 L154.44,209.15 L154.65,209.04 L154.84,208.95 L155.03,208.84 L155.21,208.67 L155.40,208.40 L155.59,208.05 L155.78,207.64 L155.97,207.18 L156.15,206.65 L156.33,206.06 L156.50,205.40 L156.66,204.70 L156.81,203.96 L156.96,203.15 L157.11,202.26 L157.25,201.25 L157.40,200.10 L157.55,198.77 L157.70,197.27 L157.84,195.66 L157.99,193.99 L158.14,192.32 L158.30,190.70 L158.47,189.05 L158.65,187.32 L158.83,185.58 L159.01,183.93 L159.17,182.44 L159.30,181.20 L159.40,180.28 L159.47,179.63 L159.52,179.15 L159.57,178.73 L159.62,178.28 L159.70,177.70 L159.80,177.00 L159.92,176.27 L160.04,175.50 L160.17,174.70 L160.29,173.87 L160.40,173.00 L160.49,172.06 L160.57,171.04 L160.65,169.99 L160.73,168.96 L160.81,167.98 L160.90,167.10 L161.00,166.26 L161.11,165.40 L161.23,164.59 L161.35,163.93 L161.48,163.47 L161.60,163.30 L161.73,163.44 L161.86,163.84 L161.99,164.45 L162.12,165.23 L162.26,166.12 L162.40,167.10 L162.55,168.17 L162.70,169.37 L162.86,170.70 L163.01,172.14 L163.16,173.67 L163.30,175.30 L163.43,177.06 L163.54,178.97 L163.66,180.98 L163.77,183.03 L163.88,185.09 L164.00,187.10 L164.13,189.11 L164.27,191.16 L164.41,193.22 L164.54,195.23 L164.68,197.14 L164.80,198.90 L164.91,200.52 L165.00,202.05 L165.08,203.48 L165.17,204.81 L165.27,206.05 L165.40,207.20 L165.57,208.28 L165.77,209.30 L165.99,210.22 L166.20,211.03 L166.37,211.69 L166.50,212.20 L177.00,212.20 L177.0,212.5 L125.3,212.5 Z" fill="#da6480"/>
<path d="M125.30,212.20 L150.60,212.20 L150.80,212.04 L151.07,211.81 L151.39,211.54 L151.73,211.25 L152.08,210.96 L152.40,210.70 L152.71,210.46 L153.02,210.21 L153.34,209.96 L153.64,209.73 L153.93,209.50 L154.20,209.30 L154.44,209.15 L154.65,209.04 L154.84,208.95 L155.03,208.84 L155.21,208.67 L155.40,208.40 L155.59,208.05 L155.78,207.64 L155.97,207.18 L156.15,206.65 L156.33,206.06 L156.50,205.40 L156.66,204.70 L156.81,203.96 L156.96,203.15 L157.11,202.26 L157.25,201.25 L157.40,200.10 L157.55,198.77 L157.70,197.27 L157.84,195.66 L157.99,193.99 L158.14,192.32 L158.30,190.70 L158.47,189.05 L158.65,187.32 L158.83,185.58 L159.01,183.93 L159.17,182.44 L159.30,181.20 L159.40,180.28 L159.47,179.63 L159.52,179.15 L159.57,178.73 L159.62,178.28 L159.70,177.70 L159.80,177.00 L159.92,176.27 L160.04,175.50 L160.17,174.70 L160.29,173.87 L160.40,173.00 L160.49,172.06 L160.57,171.04 L160.65,169.99 L160.73,168.96 L160.81,167.98 L160.90,167.10 L161.00,166.26 L161.11,165.40 L161.23,164.59 L161.35,163.93 L161.48,163.47 L161.60,163.30 L161.73,163.44 L161.86,163.84 L161.99,164.45 L162.12,165.23 L162.26,166.12 L162.40,167.10 L162.55,168.17 L162.70,169.37 L162.86,170.70 L163.01,172.14 L163.16,173.67 L163.30,175.30 L163.43,177.06 L163.54,178.97 L163.66,180.98 L163.77,183.03 L163.88,185.09 L164.00,187.10 L164.13,189.11 L164.27,191.16 L164.41,193.22 L164.54,195.23 L164.68,197.14 L164.80,198.90 L164.91,200.52 L165.00,202.05 L165.08,203.48 L165.17,204.81 L165.27,206.05 L165.40,207.20 L165.57,208.28 L165.77,209.30 L165.99,210.22 L166.20,211.03 L166.37,211.69 L166.50,212.20 L177.00,212.20" fill="none" stroke="#cc2450" stroke-width="1.0" stroke-linejoin="round"/>
<path d="M125.30,212.20 L132.00,212.20 L136.50,212.20 L136.70,195.00 L136.90,175.00 L137.20,162.30 L137.60,172.00 L138.00,190.00 L138.40,212.20 L150.00,212.20 L177.00,212.20" fill="none" stroke="#333" stroke-width="0.8" stroke-dasharray="1.3 1.1" stroke-linejoin="round"/>
<path d="M180.10,212.20 L199.40,212.20 L199.94,212.20 L200.69,212.20 L201.58,212.20 L202.52,212.20 L203.42,212.20 L204.20,212.20 L204.88,211.91 L205.53,211.52 L206.14,211.05 L206.71,210.55 L207.23,210.05 L207.70,209.60 L208.10,209.23 L208.44,208.91 L208.72,208.61 L208.99,208.25 L209.24,207.80 L209.50,207.20 L209.77,206.43 L210.03,205.54 L210.29,204.54 L210.53,203.49 L210.77,202.39 L211.00,201.30 L211.22,200.20 L211.44,199.06 L211.64,197.89 L211.84,196.69 L212.03,195.46 L212.20,194.20 L212.36,192.90 L212.50,191.55 L212.62,190.18 L212.75,188.78 L212.87,187.39 L213.00,186.00 L213.13,184.61 L213.27,183.20 L213.41,181.78 L213.54,180.38 L213.67,179.02 L213.80,177.70 L213.92,176.43 L214.03,175.20 L214.14,174.00 L214.26,172.83 L214.37,171.70 L214.50,170.60 L214.64,169.51 L214.80,168.43 L214.96,167.39 L215.11,166.40 L215.27,165.50 L215.40,164.70 L215.51,163.98 L215.61,163.30 L215.70,162.70 L215.79,162.23 L215.89,161.91 L216.00,161.80 L216.13,161.90 L216.28,162.18 L216.44,162.62 L216.60,163.21 L216.75,163.91 L216.90,164.70 L217.04,165.59 L217.17,166.58 L217.30,167.69 L217.43,168.93 L217.56,170.30 L217.70,171.80 L217.84,173.49 L217.99,175.39 L218.14,177.41 L218.30,179.49 L218.45,181.58 L218.60,183.60 L218.75,185.59 L218.90,187.62 L219.06,189.65 L219.21,191.64 L219.36,193.57 L219.50,195.40 L219.64,197.15 L219.77,198.84 L219.89,200.47 L220.02,202.01 L220.16,203.46 L220.30,204.80 L220.45,206.04 L220.61,207.19 L220.78,208.24 L220.95,209.19 L221.13,210.01 L221.30,210.70 L221.49,211.22 L221.70,211.58 L221.91,211.82 L222.11,211.97 L222.28,212.09 L222.40,212.20 L232.00,212.20 L232.0,212.5 L180.1,212.5 Z" fill="#c48c9c"/>
<path d="M180.10,212.20 L199.40,212.20 L199.94,212.20 L200.69,212.20 L201.58,212.20 L202.52,212.20 L203.42,212.20 L204.20,212.20 L204.88,211.91 L205.53,211.52 L206.14,211.05 L206.71,210.55 L207.23,210.05 L207.70,209.60 L208.10,209.23 L208.44,208.91 L208.72,208.61 L208.99,208.25 L209.24,207.80 L209.50,207.20 L209.77,206.43 L210.03,205.54 L210.29,204.54 L210.53,203.49 L210.77,202.39 L211.00,201.30 L211.22,200.20 L211.44,199.06 L211.64,197.89 L211.84,196.69 L212.03,195.46 L212.20,194.20 L212.36,192.90 L212.50,191.55 L212.62,190.18 L212.75,188.78 L212.87,187.39 L213.00,186.00 L213.13,184.61 L213.27,183.20 L213.41,181.78 L213.54,180.38 L213.67,179.02 L213.80,177.70 L213.92,176.43 L214.03,175.20 L214.14,174.00 L214.26,172.83 L214.37,171.70 L214.50,170.60 L214.64,169.51 L214.80,168.43 L214.96,167.39 L215.11,166.40 L215.27,165.50 L215.40,164.70 L215.51,163.98 L215.61,163.30 L215.70,162.70 L215.79,162.23 L215.89,161.91 L216.00,161.80 L216.13,161.90 L216.28,162.18 L216.44,162.62 L216.60,163.21 L216.75,163.91 L216.90,164.70 L217.04,165.59 L217.17,166.58 L217.30,167.69 L217.43,168.93 L217.56,170.30 L217.70,171.80 L217.84,173.49 L217.99,175.39 L218.14,177.41 L218.30,179.49 L218.45,181.58 L218.60,183.60 L218.75,185.59 L218.90,187.62 L219.06,189.65 L219.21,191.64 L219.36,193.57 L219.50,195.40 L219.64,197.15 L219.77,198.84 L219.89,200.47 L220.02,202.01 L220.16,203.46 L220.30,204.80 L220.45,206.04 L220.61,207.19 L220.78,208.24 L220.95,209.19 L221.13,210.01 L221.30,210.70 L221.49,211.22 L221.70,211.58 L221.91,211.82 L222.11,211.97 L222.28,212.09 L222.40,212.20 L232.00,212.20" fill="none" stroke="#1f5e9e" stroke-width="1.0" stroke-linejoin="round"/>
<path d="M180.10,212.20 L206.50,212.20 L206.88,211.81 L207.41,211.29 L208.04,210.67 L208.69,209.96 L209.30,209.20 L209.80,208.40 L210.19,207.56 L210.53,206.65 L210.83,205.68 L211.10,204.66 L211.35,203.60 L211.60,202.50 L211.84,201.35 L212.06,200.16 L212.26,198.91 L212.45,197.63 L212.63,196.33 L212.80,195.00 L212.96,193.64 L213.10,192.25 L213.24,190.83 L213.36,189.39 L213.48,187.95 L213.60,186.50 L213.71,185.03 L213.81,183.53 L213.90,182.01 L213.99,180.52 L214.09,179.07 L214.20,177.70 L214.32,176.40 L214.45,175.13 L214.58,173.92 L214.72,172.76 L214.86,171.65 L215.00,170.60 L215.15,169.60 L215.30,168.66 L215.45,167.76 L215.60,166.93 L215.75,166.18 L215.90,165.50 L216.04,164.87 L216.17,164.27 L216.31,163.74 L216.44,163.33 L216.57,163.07 L216.70,163.00 L216.84,163.15 L216.97,163.48 L217.11,163.97 L217.25,164.57 L217.38,165.26 L217.50,166.00 L217.61,166.76 L217.71,167.57 L217.80,168.46 L217.89,169.47 L217.99,170.64 L218.10,172.00 L218.22,173.61 L218.35,175.44 L218.49,177.44 L218.63,179.51 L218.76,181.59 L218.90,183.60 L219.03,185.58 L219.17,187.61 L219.31,189.64 L219.44,191.64 L219.57,193.57 L219.70,195.40 L219.82,197.13 L219.92,198.79 L220.02,200.38 L220.13,201.90 L220.26,203.38 L220.40,204.80 L220.58,206.23 L220.81,207.69 L221.04,209.09 L221.27,210.36 L221.46,211.42 L221.60,212.20 L232.00,212.20" fill="none" stroke="#cc2450" stroke-width="1.0" stroke-linejoin="round"/>
<path d="M235.20,212.20 L258.00,212.20 L258.39,211.98 L258.95,211.69 L259.60,211.33 L260.29,210.94 L260.94,210.52 L261.50,210.10 L261.98,209.70 L262.42,209.30 L262.83,208.89 L263.21,208.42 L263.57,207.87 L263.90,207.20 L264.19,206.42 L264.45,205.54 L264.68,204.59 L264.89,203.56 L265.09,202.46 L265.30,201.30 L265.52,200.07 L265.73,198.75 L265.93,197.37 L266.13,195.94 L266.32,194.47 L266.50,193.00 L266.67,191.50 L266.82,189.95 L266.96,188.37 L267.10,186.77 L267.25,185.18 L267.40,183.60 L267.56,182.01 L267.73,180.38 L267.91,178.76 L268.08,177.16 L268.24,175.63 L268.40,174.20 L268.54,172.85 L268.68,171.55 L268.81,170.32 L268.94,169.16 L269.07,168.08 L269.20,167.10 L269.33,166.19 L269.46,165.34 L269.59,164.58 L269.73,163.91 L269.86,163.38 L270.00,163.00 L270.15,162.78 L270.30,162.71 L270.46,162.78 L270.61,162.94 L270.76,163.19 L270.90,163.50 L271.03,163.89 L271.14,164.39 L271.25,164.97 L271.36,165.61 L271.47,166.30 L271.60,167.00 L271.74,167.67 L271.89,168.31 L272.04,168.99 L272.19,169.79 L272.35,170.77 L272.50,172.00 L272.65,173.55 L272.80,175.37 L272.95,177.38 L273.10,179.47 L273.25,181.58 L273.40,183.60 L273.55,185.58 L273.70,187.61 L273.86,189.64 L274.01,191.64 L274.16,193.57 L274.30,195.40 L274.43,197.13 L274.56,198.79 L274.68,200.38 L274.81,201.90 L274.94,203.38 L275.10,204.80 L275.29,206.23 L275.51,207.69 L275.75,209.09 L275.97,210.36 L276.16,211.42 L276.30,212.20 L286.90,212.20 L286.9,212.5 L235.2,212.5 Z" fill="#b8917f"/>
<path d="M235.20,212.20 L258.00,212.20 L258.39,211.98 L258.95,211.69 L259.60,211.33 L260.29,210.94 L260.94,210.52 L261.50,210.10 L261.98,209.70 L262.42,209.30 L262.83,208.89 L263.21,208.42 L263.57,207.87 L263.90,207.20 L264.19,206.42 L264.45,205.54 L264.68,204.59 L264.89,203.56 L265.09,202.46 L265.30,201.30 L265.52,200.07 L265.73,198.75 L265.93,197.37 L266.13,195.94 L266.32,194.47 L266.50,193.00 L266.67,191.50 L266.82,189.95 L266.96,188.37 L267.10,186.77 L267.25,185.18 L267.40,183.60 L267.56,182.01 L267.73,180.38 L267.91,178.76 L268.08,177.16 L268.24,175.63 L268.40,174.20 L268.54,172.85 L268.68,171.55 L268.81,170.32 L268.94,169.16 L269.07,168.08 L269.20,167.10 L269.33,166.19 L269.46,165.34 L269.59,164.58 L269.73,163.91 L269.86,163.38 L270.00,163.00 L270.15,162.78 L270.30,162.71 L270.46,162.78 L270.61,162.94 L270.76,163.19 L270.90,163.50 L271.03,163.89 L271.14,164.39 L271.25,164.97 L271.36,165.61 L271.47,166.30 L271.60,167.00 L271.74,167.67 L271.89,168.31 L272.04,168.99 L272.19,169.79 L272.35,170.77 L272.50,172.00 L272.65,173.55 L272.80,175.37 L272.95,177.38 L273.10,179.47 L273.25,181.58 L273.40,183.60 L273.55,185.58 L273.70,187.61 L273.86,189.64 L274.01,191.64 L274.16,193.57 L274.30,195.40 L274.43,197.13 L274.56,198.79 L274.68,200.38 L274.81,201.90 L274.94,203.38 L275.10,204.80 L275.29,206.23 L275.51,207.69 L275.75,209.09 L275.97,210.36 L276.16,211.42 L276.30,212.20 L286.90,212.20" fill="none" stroke="#35b34a" stroke-width="1.0" stroke-linejoin="round"/>
<path d="M235.20,212.20 L262.00,212.20 L262.28,211.90 L262.68,211.54 L263.14,211.08 L263.63,210.52 L264.10,209.83 L264.50,209.00 L264.84,208.02 L265.14,206.92 L265.43,205.69 L265.70,204.34 L265.95,202.87 L266.20,201.30 L266.43,199.60 L266.64,197.76 L266.83,195.81 L267.02,193.76 L267.21,191.65 L267.40,189.50 L267.60,187.19 L267.81,184.69 L268.01,182.12 L268.21,179.61 L268.41,177.30 L268.60,175.30 L268.78,173.65 L268.94,172.23 L269.10,171.01 L269.26,169.93 L269.42,168.95 L269.60,168.00 L269.79,167.11 L269.99,166.31 L270.19,165.61 L270.40,164.99 L270.60,164.45 L270.80,164.00 L270.99,163.61 L271.19,163.30 L271.38,163.06 L271.57,162.93 L271.74,162.90 L271.90,163.00 L272.04,163.24 L272.17,163.60 L272.29,164.08 L272.40,164.64 L272.50,165.29 L272.60,166.00 L272.69,166.74 L272.77,167.50 L272.84,168.35 L272.92,169.32 L273.00,170.45 L273.10,171.80 L273.22,173.42 L273.34,175.29 L273.48,177.33 L273.62,179.44 L273.76,181.56 L273.90,183.60 L274.03,185.59 L274.17,187.62 L274.31,189.65 L274.44,191.64 L274.57,193.57 L274.70,195.40 L274.82,197.13 L274.92,198.79 L275.02,200.38 L275.13,201.90 L275.26,203.38 L275.40,204.80 L275.58,206.23 L275.81,207.69 L276.04,209.09 L276.27,210.36 L276.46,211.42 L276.60,212.20 L286.90,212.20" fill="none" stroke="#cc2450" stroke-width="1.0" stroke-linejoin="round"/>
<path d="M116.7,124.5 L116.7,146.5 L139.8,146.5" fill="none" stroke="#222" stroke-width="0.8"/>
<path d="M114.9,125.1 L116.7,122.5 L118.5,125.1 Z" fill="#111"/>
<path d="M139.2,144.7 L141.9,146.5 L139.2,148.3 Z" fill="#111"/>
<path d="M116.7,198.7 L116.7,220.3 L139.8,220.3" fill="none" stroke="#222" stroke-width="0.8"/>
<path d="M114.9,199.29999999999998 L116.7,196.7 L118.5,199.29999999999998 Z" fill="#111"/>
<path d="M139.2,218.5 L141.9,220.3 L139.2,222.10000000000002 Z" fill="#111"/>
<text x="0" y="0" font-size="8.8" text-anchor="middle" textLength="23.0" lengthAdjust="spacingAndGlyphs" transform="translate(114.1,134.6) rotate(-90)">Counts</text>
<text x="0" y="0" font-size="8.8" text-anchor="middle" textLength="23.0" lengthAdjust="spacingAndGlyphs" transform="translate(114.1,208.7) rotate(-90)">Counts</text>
<text x="116.2" y="155.1" font-size="8.1" textLength="41.9" lengthAdjust="spacingAndGlyphs">Dextran-FITC</text>
<text x="116.2" y="229.3" font-size="8.3" textLength="36.2" lengthAdjust="spacingAndGlyphs">Dextran-PB</text>
<rect x="184.0" y="225.6" width="6.0" height="6.0" fill="none" stroke="#111" stroke-width="0.9" stroke-dasharray="1.5 0.9"/>
<rect x="184" y="235.3" width="6" height="5.9" fill="#c8102e"/>
<rect x="184" y="245.0" width="6" height="5.9" fill="#15508f"/>
<rect x="184" y="254.8" width="6" height="5.9" fill="#33b449"/>
<text x="193.6" y="230.8" font-size="7.6" textLength="29.6" lengthAdjust="spacingAndGlyphs">Unstained</text>
<text x="193.6" y="240.1" font-size="7.6" textLength="22.6" lengthAdjust="spacingAndGlyphs">Dextran</text>
<text x="193.6" y="250.3" font-size="7.6" textLength="63.0" lengthAdjust="spacingAndGlyphs">Dextran+Atorvastatin</text>
<text x="193.6" y="260.1" font-size="7.6" textLength="89.0" lengthAdjust="spacingAndGlyphs">Dextran+Atorvastatin+GGPP</text>
<text x="93.3" y="311.3" font-size="7.3" font-weight="bold" text-anchor="middle" textLength="31.7" lengthAdjust="spacingAndGlyphs">Gene set</text>
<text x="180" y="311.3" font-size="7.3" font-weight="bold" text-anchor="middle" textLength="15.5" lengthAdjust="spacingAndGlyphs">NES</text>
<text x="212.4" y="311.3" font-size="7.3" font-weight="bold" text-anchor="middle" textLength="14.7" lengthAdjust="spacingAndGlyphs">FDR</text>
<line x1="26.2" y1="315" x2="225.4" y2="315" stroke="#777" stroke-width="1.1"/>
<text x="32" y="324.3" font-size="7.3">Phagocytosis</text>
<text x="180" y="324.3" font-size="7.3" text-anchor="middle" textLength="14.8" lengthAdjust="spacingAndGlyphs">3.35</text>
<text x="211.8" y="324.3" font-size="7.3" text-anchor="middle">&lt;0.001</text>
<text x="32" y="334.1" font-size="7.3">Exocytosis</text>
<text x="180" y="334.1" font-size="7.3" text-anchor="middle" textLength="14.8" lengthAdjust="spacingAndGlyphs">3.21</text>
<text x="211.8" y="334.1" font-size="7.3" text-anchor="middle">&lt;0.001</text>
<text x="32" y="343.9" font-size="7.3">Endocytosis</text>
<text x="180" y="343.9" font-size="7.3" text-anchor="middle" textLength="14.8" lengthAdjust="spacingAndGlyphs">3.20</text>
<text x="211.8" y="343.9" font-size="7.3" text-anchor="middle">&lt;0.001</text>
<text x="32" y="353.7" font-size="7.3">Vesicle-mediated transport</text>
<text x="180" y="353.7" font-size="7.3" text-anchor="middle" textLength="14.8" lengthAdjust="spacingAndGlyphs">2.88</text>
<text x="211.8" y="353.7" font-size="7.3" text-anchor="middle">&lt;0.001</text>
<text x="32" y="363.5" font-size="7.3">Membrane trafficking</text>
<text x="180" y="363.5" font-size="7.3" text-anchor="middle" textLength="14.8" lengthAdjust="spacingAndGlyphs">2.51</text>
<text x="211.8" y="363.5" font-size="7.3" text-anchor="middle">&lt;0.001</text>
<text x="32" y="373.3" font-size="7.3">RAB1A</text>
<text x="180" y="373.3" font-size="7.3" text-anchor="middle" textLength="14.8" lengthAdjust="spacingAndGlyphs">2.49</text>
<text x="211.8" y="373.3" font-size="7.3" text-anchor="middle">&lt;0.001</text>
<text x="32" y="383.1" font-size="7.3">RAB regulation of trafficking</text>
<text x="180" y="383.1" font-size="7.3" text-anchor="middle" textLength="14.8" lengthAdjust="spacingAndGlyphs">2.08</text>
<text x="211.8" y="383.1" font-size="7.3" text-anchor="middle">&lt;0.001</text>
<text x="32" y="392.9" font-size="7.3">RAB7L1</text>
<text x="180" y="392.9" font-size="7.3" text-anchor="middle" textLength="14.8" lengthAdjust="spacingAndGlyphs">2.02</text>
<text x="211.8" y="392.9" font-size="7.3" text-anchor="middle">&lt;0.001</text>
<text x="32" y="402.7" font-size="7.3">RAB5A</text>
<text x="180" y="402.7" font-size="7.3" text-anchor="middle" textLength="14.8" lengthAdjust="spacingAndGlyphs">1.96</text>
<text x="211.8" y="402.7" font-size="7.3" text-anchor="middle">&lt;0.001</text>
<text x="32" y="412.5" font-size="7.3">RAB10</text>
<text x="180" y="412.5" font-size="7.3" text-anchor="middle" textLength="14.8" lengthAdjust="spacingAndGlyphs">1.94</text>
<text x="211.8" y="412.5" font-size="7.3" text-anchor="middle">&lt;0.001</text>
<text x="32" y="422.3" font-size="7.3">RAB geranylgeranylation</text>
<text x="180" y="422.3" font-size="7.3" text-anchor="middle" textLength="14.8" lengthAdjust="spacingAndGlyphs">1.86</text>
<text x="211.8" y="422.3" font-size="7.3" text-anchor="middle">0.002</text>
<text x="32" y="432.1" font-size="7.3">Hallmark cholesterol homeostasis</text>
<text x="180" y="432.1" font-size="7.3" text-anchor="middle" textLength="14.8" lengthAdjust="spacingAndGlyphs">1.75</text>
<text x="211.8" y="432.1" font-size="7.3" text-anchor="middle">0.006</text>
<text x="32" y="441.9" font-size="7.3">RAB6A</text>
<text x="180" y="441.9" font-size="7.3" text-anchor="middle" textLength="14.8" lengthAdjust="spacingAndGlyphs">1.74</text>
<text x="211.8" y="441.9" font-size="7.3" text-anchor="middle">0.006</text>
<rect x="360.7" y="30.8" width="61.5" height="9.9" fill="#c3c3c7"/>
<rect x="425.8" y="30.8" width="61.4" height="9.9" fill="#c3c3c7"/>
<text x="390.0" y="38.1" font-size="7.5" text-anchor="middle" textLength="48.0" lengthAdjust="spacingAndGlyphs" style="stroke-width:0.06px">Statin sensitive</text>
<text x="456.5" y="38.1" font-size="7.5" text-anchor="middle" textLength="47.4" lengthAdjust="spacingAndGlyphs" style="stroke-width:0.06px">Statin resistant</text>
<path d="M359.6,91.83H487.5 M359.6,83.46H487.5 M359.6,75.09H487.5 M359.6,66.72H487.5 M359.6,58.35H487.5 M359.6,49.98H487.5 M380.70,46.3V103.3 M401.35,46.3V103.3 M422.00,46.3V103.3 M442.65,46.3V103.3 M463.30,46.3V103.3 M483.95,46.3V103.3" stroke="#f0f0f0" stroke-width="0.8" fill="none"/>
<line x1="359.6" y1="100.2" x2="487.5" y2="100.2" stroke="#c8c8c8" stroke-width="0.8"/>
<line x1="359.6" y1="103.3" x2="487.5" y2="103.3" stroke="#dcdcdc" stroke-width="0.6"/>
<rect x="360" y="104.0" width="1" height="17.90" fill="rgb(0,0,0)"/><rect x="361" y="104.0" width="1" height="17.90" fill="rgb(51,51,51)"/><rect x="362" y="104.0" width="1" height="17.90" fill="rgb(17,17,17)"/><rect x="363" y="104.0" width="1" height="17.90" fill="rgb(68,68,68)"/><rect x="364" y="104.0" width="1" height="17.90" fill="rgb(0,0,0)"/><rect x="365" y="104.0" width="1" height="17.90" fill="rgb(0,0,0)"/><rect x="366" y="104.0" width="1" height="17.90" fill="rgb(0,0,0)"/><rect x="367" y="104.0" width="1" height="17.90" fill="rgb(51,51,51)"/><rect x="368" y="104.0" width="1" height="17.90" fill="rgb(0,0,0)"/><rect x="369" y="104.0" width="1" height="17.90" fill="rgb(0,0,0)"/><rect x="370" y="104.0" width="1" height="17.90" fill="rgb(0,0,0)"/><rect x="371" y="104.0" width="1" height="17.90" fill="rgb(0,0,0)"/><rect x="372" y="104.0" width="1" height="17.90" fill="rgb(0,0,0)"/><rect x="373" y="104.0" width="1" height="17.90" fill="rgb(0,0,0)"/><rect x="374" y="104.0" width="1" height="17.90" fill="rgb(0,0,0)"/><rect x="375" y="104.0" width="1" height="17.90" fill="rgb(68,68,68)"/><rect x="376" y="104.0" width="1" height="17.90" fill="rgb(102,102,102)"/><rect x="377" y="104.0" width="1" height="17.90" fill="rgb(204,204,204)"/><rect x="378" y="104.0" width="1" height="17.90" fill="rgb(0,0,0)"/><rect x="379" y="104.0" width="1" height="17.90" fill="rgb(136,136,136)"/><rect x="380" y="104.0" width="1" height="17.90" fill="rgb(85,85,85)"/><rect x="381" y="104.0" width="1" height="17.90" fill="rgb(238,238,238)"/><rect x="382" y="104.0" width="1" height="17.90" fill="rgb(119,119,119)"/><rect x="383" y="104.0" width="1" height="17.90" fill="rgb(34,34,34)"/><rect x="384" y="104.0" width="1" height="17.90" fill="rgb(102,102,102)"/><rect x="385" y="104.0" width="1" height="17.90" fill="rgb(0,0,0)"/><rect x="386" y="104.0" width="1" height="17.90" fill="rgb(136,136,136)"/><rect x="387" y="104.0" width="1" height="17.90" fill="rgb(119,119,119)"/><rect x="388" y="104.0" width="1" height="17.90" fill="rgb(119,119,119)"/><rect x="389" y="104.0" width="1" height="17.90" fill="rgb(153,153,153)"/><rect x="390" y="104.0" width="1" height="17.90" fill="rgb(136,136,136)"/><rect x="391" y="104.0" width="1" height="17.90" fill="rgb(119,119,119)"/><rect x="392" y="104.0" width="1" height="17.90" fill="rgb(85,85,85)"/><rect x="393" y="104.0" width="1" height="17.90" fill="rgb(0,0,0)"/><rect x="395" y="104.0" width="1" height="17.90" fill="rgb(68,68,68)"/><rect x="396" y="104.0" width="1" height="17.90" fill="rgb(68,68,68)"/><rect x="397" y="104.0" width="1" height="17.90" fill="rgb(102,102,102)"/><rect x="398" y="104.0" width="1" height="17.90" fill="rgb(170,170,170)"/><rect x="399" y="104.0" width="1" height="17.90" fill="rgb(68,68,68)"/><rect x="400" y="104.0" width="1" height="17.90" fill="rgb(68,68,68)"/><rect x="401" y="104.0" width="1" height="17.90" fill="rgb(85,85,85)"/><rect x="402" y="104.0" width="1" height="17.90" fill="rgb(153,153,153)"/><rect x="403" y="104.0" width="1" height="17.90" fill="rgb(153,153,153)"/><rect x="404" y="104.0" width="1" height="17.90" fill="rgb(153,153,153)"/><rect x="405" y="104.0" width="1" height="17.90" fill="rgb(119,119,119)"/><rect x="406" y="104.0" width="1" height="17.90" fill="rgb(153,153,153)"/><rect x="407" y="104.0" width="1" height="17.90" fill="rgb(85,85,85)"/><rect x="408" y="104.0" width="1" height="17.90" fill="rgb(34,34,34)"/><rect x="410" y="104.0" width="1" height="17.90" fill="rgb(238,238,238)"/><rect x="411" y="104.0" width="1" height="17.90" fill="rgb(204,204,204)"/><rect x="412" y="104.0" width="1" height="17.90" fill="rgb(204,204,204)"/><rect x="413" y="104.0" width="1" height="17.90" fill="rgb(204,204,204)"/><rect x="414" y="104.0" width="1" height="17.90" fill="rgb(221,221,221)"/><rect x="418" y="104.0" width="1" height="17.90" fill="rgb(187,187,187)"/><rect x="419" y="104.0" width="1" height="17.90" fill="rgb(153,153,153)"/><rect x="444" y="104.0" width="1" height="17.90" fill="rgb(119,119,119)"/><rect x="445" y="104.0" width="1" height="17.90" fill="rgb(136,136,136)"/><rect x="449" y="104.0" width="1" height="17.90" fill="rgb(153,153,153)"/><rect x="453" y="104.0" width="1" height="17.90" fill="rgb(204,204,204)"/><rect x="454" y="104.0" width="1" height="17.90" fill="rgb(238,238,238)"/><rect x="458" y="104.0" width="1" height="17.90" fill="rgb(136,136,136)"/><rect x="459" y="104.0" width="1" height="17.90" fill="rgb(221,221,221)"/><rect x="474" y="104.0" width="1" height="17.90" fill="rgb(153,153,153)"/><rect x="476" y="104.0" width="1" height="17.90" fill="rgb(170,170,170)"/><rect x="477" y="104.0" width="1" height="17.90" fill="rgb(238,238,238)"/><rect x="478" y="104.0" width="1" height="17.90" fill="rgb(187,187,187)"/><rect x="479" y="104.0" width="1" height="17.90" fill="rgb(187,187,187)"/><rect x="480" y="104.0" width="1" height="17.90" fill="rgb(170,170,170)"/><rect x="481" y="104.0" width="1" height="17.90" fill="rgb(187,187,187)"/>
<path d="M359.70,100.10 L360.04,98.92 L360.53,97.22 L361.10,95.31 L361.70,93.50 L362.34,91.86 L363.05,90.24 L363.76,88.57 L364.40,86.80 L364.94,84.89 L365.41,82.89 L365.87,80.84 L366.40,78.80 L367.04,76.73 L367.74,74.63 L368.42,72.58 L369.00,70.70 L369.42,69.08 L369.74,67.65 L370.04,66.24 L370.40,64.70 L370.87,62.86 L371.41,60.84 L371.94,58.93 L372.40,57.40 L372.74,56.39 L373.01,55.74 L373.29,55.25 L373.70,54.70 L374.23,54.07 L374.84,53.45 L375.55,52.86 L376.40,52.30 L377.45,51.77 L378.67,51.27 L379.93,50.81 L381.10,50.40 L382.12,50.05 L383.06,49.75 L384.03,49.50 L385.10,49.30 L386.33,49.15 L387.66,49.05 L389.04,49.00 L390.40,49.00 L391.75,49.05 L393.10,49.15 L394.45,49.30 L395.80,49.50 L397.10,49.75 L398.37,50.04 L399.68,50.39 L401.10,50.80 L402.71,51.28 L404.45,51.82 L406.19,52.40 L407.80,53.00 L409.30,53.66 L410.75,54.39 L412.05,55.07 L413.10,55.60 L413.69,55.83 L413.93,55.86 L414.23,55.95 L415.00,56.40 L416.43,57.32 L418.27,58.54 L420.28,59.92 L422.20,61.30 L424.00,62.71 L425.80,64.19 L427.60,65.69 L429.40,67.10 L431.20,68.39 L432.99,69.60 L434.79,70.81 L436.60,72.10 L438.42,73.51 L440.25,74.99 L442.08,76.48 L443.90,77.90 L445.71,79.23 L447.51,80.50 L449.30,81.75 L451.10,83.00 L452.90,84.25 L454.70,85.50 L456.50,86.75 L458.30,88.00 L460.10,89.29 L461.90,90.59 L463.70,91.88 L465.50,93.10 L467.33,94.28 L469.19,95.43 L471.00,96.49 L472.70,97.40 L474.31,98.14 L475.85,98.73 L477.27,99.21 L478.50,99.60 L479.56,99.88 L480.46,100.04 L481.19,100.13 L481.70,100.20" fill="none" stroke="#78c266" stroke-width="1.15" stroke-linejoin="round" stroke-linecap="round"/>
<path d="M359.05,46.3H488.05 M359.05,121.9H488.05" stroke="#4d4d4d" stroke-width="1.1" fill="none"/>
<path d="M359.6,46.3V121.9 M487.5,46.3V121.9" stroke="#4d4d4d" stroke-width="1.1" fill="none"/>
<text x="353.8" y="102.9" font-size="8.0" text-anchor="end" textLength="9.9" lengthAdjust="spacingAndGlyphs">0.0</text>
<text x="353.8" y="94.53" font-size="8.0" text-anchor="end" textLength="9.9" lengthAdjust="spacingAndGlyphs">0.1</text>
<text x="353.8" y="86.16" font-size="8.0" text-anchor="end" textLength="9.9" lengthAdjust="spacingAndGlyphs">0.2</text>
<text x="353.8" y="77.79" font-size="8.0" text-anchor="end" textLength="9.9" lengthAdjust="spacingAndGlyphs">0.3</text>
<text x="353.8" y="69.42" font-size="8.0" text-anchor="end" textLength="9.9" lengthAdjust="spacingAndGlyphs">0.4</text>
<text x="353.8" y="61.05" font-size="8.0" text-anchor="end" textLength="9.9" lengthAdjust="spacingAndGlyphs">0.5</text>
<text x="353.8" y="52.68" font-size="8.0" text-anchor="end" textLength="9.9" lengthAdjust="spacingAndGlyphs">0.6</text>
<path d="M357.0,100.20H359.6 M357.0,91.83H359.6 M357.0,83.46H359.6 M357.0,75.09H359.6 M357.0,66.72H359.6 M357.0,58.35H359.6 M357.0,49.98H359.6" stroke="#333" stroke-width="0.8"/>
<text x="442.9" y="55.1" font-size="6.3" textLength="27.6" lengthAdjust="spacing" style="stroke-width:0.08px">NES: 3.35</text>
<text x="442.9" y="62.0" font-size="6.3" textLength="34.7" lengthAdjust="spacing" style="stroke-width:0.08px">FDR: &lt;0.001</text>
<text x="0" y="0" font-size="8.8" text-anchor="middle" textLength="62.4" lengthAdjust="spacingAndGlyphs" transform="translate(337.2,75.3) rotate(-90)">Enrichment score (ES)</text>
<text x="0" y="0" font-size="9.6" text-anchor="middle" textLength="35.9" lengthAdjust="spacingAndGlyphs" transform="translate(494.2,75.0) rotate(90)">Phagocytosis</text>
<path d="M360.6,172.14H488.4 M360.6,163.08H488.4 M360.6,154.02H488.4 M360.6,144.96H488.4 M360.6,135.90H488.4 M381.70,128.4V185.2 M402.35,128.4V185.2 M423.00,128.4V185.2 M443.65,128.4V185.2 M464.30,128.4V185.2 M484.95,128.4V185.2" stroke="#f0f0f0" stroke-width="0.8" fill="none"/>
<line x1="360.6" y1="181.2" x2="488.4" y2="181.2" stroke="#c8c8c8" stroke-width="0.8"/>
<line x1="360.6" y1="185.2" x2="488.4" y2="185.2" stroke="#dcdcdc" stroke-width="0.6"/>
<rect x="361" y="185.8" width="1" height="17.90" fill="rgb(0,0,0)"/><rect x="362" y="185.8" width="1" height="17.90" fill="rgb(0,0,0)"/><rect x="363" y="185.8" width="1" height="17.90" fill="rgb(0,0,0)"/><rect x="364" y="185.8" width="1" height="17.90" fill="rgb(0,0,0)"/><rect x="365" y="185.8" width="1" height="17.90" fill="rgb(34,34,34)"/><rect x="366" y="185.8" width="1" height="17.90" fill="rgb(0,0,0)"/><rect x="367" y="185.8" width="1" height="17.90" fill="rgb(0,0,0)"/><rect x="368" y="185.8" width="1" height="17.90" fill="rgb(0,0,0)"/><rect x="369" y="185.8" width="1" height="17.90" fill="rgb(0,0,0)"/><rect x="370" y="185.8" width="1" height="17.90" fill="rgb(51,51,51)"/><rect x="371" y="185.8" width="1" height="17.90" fill="rgb(17,17,17)"/><rect x="372" y="185.8" width="1" height="17.90" fill="rgb(17,17,17)"/><rect x="373" y="185.8" width="1" height="17.90" fill="rgb(17,17,17)"/><rect x="374" y="185.8" width="1" height="17.90" fill="rgb(34,34,34)"/><rect x="375" y="185.8" width="1" height="17.90" fill="rgb(68,68,68)"/><rect x="376" y="185.8" width="1" height="17.90" fill="rgb(0,0,0)"/><rect x="377" y="185.8" width="1" height="17.90" fill="rgb(0,0,0)"/><rect x="378" y="185.8" width="1" height="17.90" fill="rgb(0,0,0)"/><rect x="379" y="185.8" width="1" height="17.90" fill="rgb(0,0,0)"/><rect x="380" y="185.8" width="1" height="17.90" fill="rgb(170,170,170)"/><rect x="381" y="185.8" width="1" height="17.90" fill="rgb(17,17,17)"/><rect x="382" y="185.8" width="1" height="17.90" fill="rgb(0,0,0)"/><rect x="383" y="185.8" width="1" height="17.90" fill="rgb(0,0,0)"/><rect x="384" y="185.8" width="1" height="17.90" fill="rgb(0,0,0)"/><rect x="385" y="185.8" width="1" height="17.90" fill="rgb(51,51,51)"/><rect x="386" y="185.8" width="1" height="17.90" fill="rgb(119,119,119)"/><rect x="387" y="185.8" width="1" height="17.90" fill="rgb(153,153,153)"/><rect x="388" y="185.8" width="1" height="17.90" fill="rgb(68,68,68)"/><rect x="389" y="185.8" width="1" height="17.90" fill="rgb(17,17,17)"/><rect x="390" y="185.8" width="1" height="17.90" fill="rgb(0,0,0)"/><rect x="391" y="185.8" width="1" height="17.90" fill="rgb(0,0,0)"/><rect x="392" y="185.8" width="1" height="17.90" fill="rgb(0,0,0)"/><rect x="393" y="185.8" width="1" height="17.90" fill="rgb(34,34,34)"/><rect x="394" y="185.8" width="1" height="17.90" fill="rgb(0,0,0)"/><rect x="395" y="185.8" width="1" height="17.90" fill="rgb(0,0,0)"/><rect x="396" y="185.8" width="1" height="17.90" fill="rgb(0,0,0)"/><rect x="397" y="185.8" width="1" height="17.90" fill="rgb(34,34,34)"/><rect x="398" y="185.8" width="1" height="17.90" fill="rgb(187,187,187)"/><rect x="399" y="185.8" width="1" height="17.90" fill="rgb(136,136,136)"/><rect x="400" y="185.8" width="1" height="17.90" fill="rgb(34,34,34)"/><rect x="401" y="185.8" width="1" height="17.90" fill="rgb(68,68,68)"/><rect x="402" y="185.8" width="1" height="17.90" fill="rgb(85,85,85)"/><rect x="403" y="185.8" width="1" height="17.90" fill="rgb(51,51,51)"/><rect x="404" y="185.8" width="1" height="17.90" fill="rgb(238,238,238)"/><rect x="406" y="185.8" width="1" height="17.90" fill="rgb(187,187,187)"/><rect x="407" y="185.8" width="1" height="17.90" fill="rgb(34,34,34)"/><rect x="408" y="185.8" width="1" height="17.90" fill="rgb(0,0,0)"/><rect x="409" y="185.8" width="1" height="17.90" fill="rgb(34,34,34)"/><rect x="410" y="185.8" width="1" height="17.90" fill="rgb(221,221,221)"/><rect x="412" y="185.8" width="1" height="17.90" fill="rgb(153,153,153)"/><rect x="413" y="185.8" width="1" height="17.90" fill="rgb(17,17,17)"/><rect x="414" y="185.8" width="1" height="17.90" fill="rgb(187,187,187)"/><rect x="415" y="185.8" width="1" height="17.90" fill="rgb(221,221,221)"/><rect x="416" y="185.8" width="1" height="17.90" fill="rgb(153,153,153)"/><rect x="417" y="185.8" width="1" height="17.90" fill="rgb(221,221,221)"/><rect x="418" y="185.8" width="1" height="17.90" fill="rgb(187,187,187)"/><rect x="419" y="185.8" width="1" height="17.90" fill="rgb(204,204,204)"/><rect x="420" y="185.8" width="1" height="17.90" fill="rgb(51,51,51)"/><rect x="421" y="185.8" width="1" height="17.90" fill="rgb(238,238,238)"/><rect x="423" y="185.8" width="1" height="17.90" fill="rgb(204,204,204)"/><rect x="424" y="185.8" width="1" height="17.90" fill="rgb(187,187,187)"/><rect x="425" y="185.8" width="1" height="17.90" fill="rgb(221,221,221)"/><rect x="438" y="185.8" width="1" height="17.90" fill="rgb(204,204,204)"/><rect x="439" y="185.8" width="1" height="17.90" fill="rgb(221,221,221)"/><rect x="445" y="185.8" width="1" height="17.90" fill="rgb(153,153,153)"/><rect x="446" y="185.8" width="1" height="17.90" fill="rgb(187,187,187)"/><rect x="447" y="185.8" width="1" height="17.90" fill="rgb(136,136,136)"/><rect x="448" y="185.8" width="1" height="17.90" fill="rgb(238,238,238)"/><rect x="453" y="185.8" width="1" height="17.90" fill="rgb(187,187,187)"/><rect x="454" y="185.8" width="1" height="17.90" fill="rgb(187,187,187)"/><rect x="455" y="185.8" width="1" height="17.90" fill="rgb(204,204,204)"/><rect x="456" y="185.8" width="1" height="17.90" fill="rgb(204,204,204)"/><rect x="457" y="185.8" width="1" height="17.90" fill="rgb(170,170,170)"/><rect x="458" y="185.8" width="1" height="17.90" fill="rgb(102,102,102)"/><rect x="459" y="185.8" width="1" height="17.90" fill="rgb(34,34,34)"/><rect x="461" y="185.8" width="1" height="17.90" fill="rgb(221,221,221)"/><rect x="462" y="185.8" width="1" height="17.90" fill="rgb(170,170,170)"/><rect x="463" y="185.8" width="1" height="17.90" fill="rgb(221,221,221)"/><rect x="464" y="185.8" width="1" height="17.90" fill="rgb(187,187,187)"/><rect x="465" y="185.8" width="1" height="17.90" fill="rgb(204,204,204)"/><rect x="466" y="185.8" width="1" height="17.90" fill="rgb(204,204,204)"/><rect x="468" y="185.8" width="1" height="17.90" fill="rgb(204,204,204)"/><rect x="469" y="185.8" width="1" height="17.90" fill="rgb(170,170,170)"/><rect x="470" y="185.8" width="1" height="17.90" fill="rgb(153,153,153)"/><rect x="471" y="185.8" width="1" height="17.90" fill="rgb(187,187,187)"/><rect x="472" y="185.8" width="1" height="17.90" fill="rgb(0,0,0)"/><rect x="473" y="185.8" width="1" height="17.90" fill="rgb(221,221,221)"/><rect x="474" y="185.8" width="1" height="17.90" fill="rgb(85,85,85)"/><rect x="475" y="185.8" width="1" height="17.90" fill="rgb(51,51,51)"/><rect x="476" y="185.8" width="1" height="17.90" fill="rgb(119,119,119)"/><rect x="477" y="185.8" width="1" height="17.90" fill="rgb(204,204,204)"/><rect x="478" y="185.8" width="1" height="17.90" fill="rgb(153,153,153)"/><rect x="479" y="185.8" width="1" height="17.90" fill="rgb(221,221,221)"/><rect x="480" y="185.8" width="1" height="17.90" fill="rgb(17,17,17)"/><rect x="481" y="185.8" width="1" height="17.90" fill="rgb(17,17,17)"/>
<path d="M360.60,181.00 L360.82,179.54 L361.13,177.45 L361.50,175.04 L361.90,172.60 L362.32,170.11 L362.77,167.44 L363.26,164.75 L363.80,162.20 L364.39,159.81 L365.02,157.49 L365.69,155.28 L366.40,153.20 L367.14,151.26 L367.92,149.46 L368.74,147.75 L369.60,146.10 L370.56,144.43 L371.59,142.79 L372.60,141.32 L373.50,140.20 L374.21,139.61 L374.80,139.41 L375.39,139.28 L376.10,138.90 L376.95,138.12 L377.89,137.13 L378.90,136.13 L380.00,135.30 L381.24,134.67 L382.61,134.16 L383.97,133.76 L385.20,133.50 L386.25,133.46 L387.18,133.61 L388.08,133.77 L389.00,133.80 L389.94,133.63 L390.86,133.35 L391.83,133.02 L392.90,132.70 L394.11,132.33 L395.42,131.91 L396.77,131.56 L398.10,131.40 L399.43,131.48 L400.78,131.73 L402.09,132.08 L403.30,132.50 L404.34,132.99 L405.26,133.58 L406.17,134.20 L407.20,134.80 L408.45,135.38 L409.82,135.96 L411.17,136.52 L412.30,137.00 L413.04,137.32 L413.52,137.52 L414.06,137.79 L415.00,138.30 L416.48,139.13 L418.32,140.17 L420.29,141.35 L422.20,142.60 L424.00,143.95 L425.80,145.41 L427.60,146.92 L429.40,148.40 L431.20,149.81 L432.99,151.21 L434.79,152.62 L436.60,154.10 L438.42,155.69 L440.25,157.34 L442.08,159.01 L443.90,160.60 L445.71,162.11 L447.51,163.56 L449.30,164.99 L451.10,166.40 L452.90,167.81 L454.70,169.21 L456.50,170.57 L458.30,171.90 L460.10,173.20 L461.90,174.49 L463.70,175.70 L465.50,176.80 L467.32,177.77 L469.14,178.64 L470.95,179.41 L472.70,180.10 L474.46,180.75 L476.22,181.33 L477.84,181.78 L479.20,182.00 L480.25,181.89 L481.06,181.52 L481.66,181.09 L482.10,180.80" fill="none" stroke="#78c266" stroke-width="1.15" stroke-linejoin="round" stroke-linecap="round"/>
<path d="M360.05,128.4H488.95 M360.05,203.7H488.95" stroke="#4d4d4d" stroke-width="1.1" fill="none"/>
<path d="M360.6,128.4V203.7 M488.4,128.4V203.7" stroke="#4d4d4d" stroke-width="1.1" fill="none"/>
<text x="354.8" y="183.9" font-size="8.0" text-anchor="end" textLength="9.9" lengthAdjust="spacingAndGlyphs">0.0</text>
<text x="354.8" y="174.84" font-size="8.0" text-anchor="end" textLength="9.9" lengthAdjust="spacingAndGlyphs">0.1</text>
<text x="354.8" y="165.78" font-size="8.0" text-anchor="end" textLength="9.9" lengthAdjust="spacingAndGlyphs">0.2</text>
<text x="354.8" y="156.72" font-size="8.0" text-anchor="end" textLength="9.9" lengthAdjust="spacingAndGlyphs">0.3</text>
<text x="354.8" y="147.66" font-size="8.0" text-anchor="end" textLength="9.9" lengthAdjust="spacingAndGlyphs">0.4</text>
<text x="354.8" y="138.6" font-size="8.0" text-anchor="end" textLength="9.9" lengthAdjust="spacingAndGlyphs">0.5</text>
<path d="M358.0,181.20H360.6 M358.0,172.14H360.6 M358.0,163.08H360.6 M358.0,154.02H360.6 M358.0,144.96H360.6 M358.0,135.90H360.6" stroke="#333" stroke-width="0.8"/>
<text x="442.9" y="137.0" font-size="6.3" textLength="27.6" lengthAdjust="spacing" style="stroke-width:0.08px">NES: 3.21</text>
<text x="442.9" y="144.2" font-size="6.3" textLength="34.7" lengthAdjust="spacing" style="stroke-width:0.08px">FDR: &lt;0.001</text>
<text x="0" y="0" font-size="8.8" text-anchor="middle" textLength="62.4" lengthAdjust="spacingAndGlyphs" transform="translate(337.9,159.0) rotate(-90)">Enrichment score (ES)</text>
<text x="0" y="0" font-size="9.6" text-anchor="middle" textLength="29.2" lengthAdjust="spacingAndGlyphs" transform="translate(494.0,158.7) rotate(90)">Exocytosis</text>
<path d="M361.0,258.50H488.9 M361.0,249.60H488.9 M361.0,240.70H488.9 M361.0,231.80H488.9 M361.0,222.90H488.9 M382.10,214.0V270.3 M402.75,214.0V270.3 M423.40,214.0V270.3 M444.05,214.0V270.3 M464.70,214.0V270.3 M485.35,214.0V270.3" stroke="#f0f0f0" stroke-width="0.8" fill="none"/>
<line x1="361.0" y1="267.4" x2="488.9" y2="267.4" stroke="#c8c8c8" stroke-width="0.8"/>
<line x1="361.0" y1="270.3" x2="488.9" y2="270.3" stroke="#dcdcdc" stroke-width="0.6"/>
<rect x="361" y="270.9" width="1" height="18.40" fill="rgb(0,0,0)"/><rect x="362" y="270.9" width="1" height="18.40" fill="rgb(17,17,17)"/><rect x="363" y="270.9" width="1" height="18.40" fill="rgb(51,51,51)"/><rect x="364" y="270.9" width="1" height="18.40" fill="rgb(51,51,51)"/><rect x="365" y="270.9" width="1" height="18.40" fill="rgb(34,34,34)"/><rect x="366" y="270.9" width="1" height="18.40" fill="rgb(0,0,0)"/><rect x="367" y="270.9" width="1" height="18.40" fill="rgb(0,0,0)"/><rect x="368" y="270.9" width="1" height="18.40" fill="rgb(0,0,0)"/><rect x="369" y="270.9" width="1" height="18.40" fill="rgb(34,34,34)"/><rect x="370" y="270.9" width="1" height="18.40" fill="rgb(0,0,0)"/><rect x="371" y="270.9" width="1" height="18.40" fill="rgb(0,0,0)"/><rect x="372" y="270.9" width="1" height="18.40" fill="rgb(0,0,0)"/><rect x="373" y="270.9" width="1" height="18.40" fill="rgb(34,34,34)"/><rect x="374" y="270.9" width="1" height="18.40" fill="rgb(51,51,51)"/><rect x="375" y="270.9" width="1" height="18.40" fill="rgb(34,34,34)"/><rect x="376" y="270.9" width="1" height="18.40" fill="rgb(51,51,51)"/><rect x="377" y="270.9" width="1" height="18.40" fill="rgb(170,170,170)"/><rect x="378" y="270.9" width="1" height="18.40" fill="rgb(34,34,34)"/><rect x="379" y="270.9" width="1" height="18.40" fill="rgb(51,51,51)"/><rect x="380" y="270.9" width="1" height="18.40" fill="rgb(34,34,34)"/><rect x="381" y="270.9" width="1" height="18.40" fill="rgb(204,204,204)"/><rect x="382" y="270.9" width="1" height="18.40" fill="rgb(34,34,34)"/><rect x="383" y="270.9" width="1" height="18.40" fill="rgb(17,17,17)"/><rect x="384" y="270.9" width="1" height="18.40" fill="rgb(187,187,187)"/><rect x="385" y="270.9" width="1" height="18.40" fill="rgb(34,34,34)"/><rect x="386" y="270.9" width="1" height="18.40" fill="rgb(102,102,102)"/><rect x="387" y="270.9" width="1" height="18.40" fill="rgb(102,102,102)"/><rect x="388" y="270.9" width="1" height="18.40" fill="rgb(68,68,68)"/><rect x="389" y="270.9" width="1" height="18.40" fill="rgb(187,187,187)"/><rect x="390" y="270.9" width="1" height="18.40" fill="rgb(34,34,34)"/><rect x="391" y="270.9" width="1" height="18.40" fill="rgb(17,17,17)"/><rect x="392" y="270.9" width="1" height="18.40" fill="rgb(51,51,51)"/><rect x="393" y="270.9" width="1" height="18.40" fill="rgb(34,34,34)"/><rect x="394" y="270.9" width="1" height="18.40" fill="rgb(187,187,187)"/><rect x="395" y="270.9" width="1" height="18.40" fill="rgb(51,51,51)"/><rect x="396" y="270.9" width="1" height="18.40" fill="rgb(51,51,51)"/><rect x="397" y="270.9" width="1" height="18.40" fill="rgb(68,68,68)"/><rect x="398" y="270.9" width="1" height="18.40" fill="rgb(238,238,238)"/><rect x="400" y="270.9" width="1" height="18.40" fill="rgb(187,187,187)"/><rect x="401" y="270.9" width="1" height="18.40" fill="rgb(221,221,221)"/><rect x="402" y="270.9" width="1" height="18.40" fill="rgb(136,136,136)"/><rect x="403" y="270.9" width="1" height="18.40" fill="rgb(85,85,85)"/><rect x="404" y="270.9" width="1" height="18.40" fill="rgb(34,34,34)"/><rect x="405" y="270.9" width="1" height="18.40" fill="rgb(204,204,204)"/><rect x="406" y="270.9" width="1" height="18.40" fill="rgb(17,17,17)"/><rect x="407" y="270.9" width="1" height="18.40" fill="rgb(221,221,221)"/><rect x="408" y="270.9" width="1" height="18.40" fill="rgb(187,187,187)"/><rect x="409" y="270.9" width="1" height="18.40" fill="rgb(34,34,34)"/><rect x="410" y="270.9" width="1" height="18.40" fill="rgb(204,204,204)"/><rect x="411" y="270.9" width="1" height="18.40" fill="rgb(221,221,221)"/><rect x="412" y="270.9" width="1" height="18.40" fill="rgb(119,119,119)"/><rect x="413" y="270.9" width="1" height="18.40" fill="rgb(102,102,102)"/><rect x="414" y="270.9" width="1" height="18.40" fill="rgb(170,170,170)"/><rect x="420" y="270.9" width="1" height="18.40" fill="rgb(187,187,187)"/><rect x="421" y="270.9" width="1" height="18.40" fill="rgb(153,153,153)"/><rect x="422" y="270.9" width="1" height="18.40" fill="rgb(204,204,204)"/><rect x="423" y="270.9" width="1" height="18.40" fill="rgb(238,238,238)"/><rect x="434" y="270.9" width="1" height="18.40" fill="rgb(238,238,238)"/><rect x="435" y="270.9" width="1" height="18.40" fill="rgb(187,187,187)"/><rect x="436" y="270.9" width="1" height="18.40" fill="rgb(221,221,221)"/><rect x="444" y="270.9" width="1" height="18.40" fill="rgb(136,136,136)"/><rect x="445" y="270.9" width="1" height="18.40" fill="rgb(153,153,153)"/><rect x="446" y="270.9" width="1" height="18.40" fill="rgb(221,221,221)"/><rect x="452" y="270.9" width="1" height="18.40" fill="rgb(187,187,187)"/><rect x="454" y="270.9" width="1" height="18.40" fill="rgb(238,238,238)"/><rect x="455" y="270.9" width="1" height="18.40" fill="rgb(102,102,102)"/><rect x="456" y="270.9" width="1" height="18.40" fill="rgb(238,238,238)"/><rect x="459" y="270.9" width="1" height="18.40" fill="rgb(204,204,204)"/><rect x="461" y="270.9" width="1" height="18.40" fill="rgb(221,221,221)"/><rect x="462" y="270.9" width="1" height="18.40" fill="rgb(85,85,85)"/><rect x="463" y="270.9" width="1" height="18.40" fill="rgb(221,221,221)"/><rect x="467" y="270.9" width="1" height="18.40" fill="rgb(119,119,119)"/><rect x="468" y="270.9" width="1" height="18.40" fill="rgb(204,204,204)"/><rect x="471" y="270.9" width="1" height="18.40" fill="rgb(238,238,238)"/><rect x="472" y="270.9" width="1" height="18.40" fill="rgb(119,119,119)"/><rect x="473" y="270.9" width="1" height="18.40" fill="rgb(170,170,170)"/><rect x="474" y="270.9" width="1" height="18.40" fill="rgb(221,221,221)"/><rect x="475" y="270.9" width="1" height="18.40" fill="rgb(221,221,221)"/><rect x="476" y="270.9" width="1" height="18.40" fill="rgb(204,204,204)"/><rect x="477" y="270.9" width="1" height="18.40" fill="rgb(187,187,187)"/><rect x="478" y="270.9" width="1" height="18.40" fill="rgb(170,170,170)"/><rect x="479" y="270.9" width="1" height="18.40" fill="rgb(102,102,102)"/><rect x="480" y="270.9" width="1" height="18.40" fill="rgb(34,34,34)"/><rect x="481" y="270.9" width="1" height="18.40" fill="rgb(221,221,221)"/><rect x="482" y="270.9" width="1" height="18.40" fill="rgb(204,204,204)"/>
<path d="M360.70,267.20 L361.04,265.51 L361.53,263.07 L362.10,260.42 L362.70,258.10 L363.33,256.25 L364.01,254.59 L364.72,253.01 L365.40,251.40 L366.04,249.83 L366.66,248.31 L367.30,246.69 L368.00,244.80 L368.80,242.42 L369.66,239.71 L370.54,237.02 L371.40,234.70 L372.23,232.87 L373.05,231.34 L373.87,229.98 L374.70,228.70 L375.55,227.45 L376.40,226.31 L377.25,225.28 L378.10,224.40 L378.93,223.76 L379.76,223.31 L380.58,222.88 L381.40,222.30 L382.18,221.45 L382.92,220.45 L383.73,219.47 L384.70,218.70 L385.89,218.21 L387.23,217.89 L388.66,217.65 L390.10,217.40 L391.56,217.04 L393.06,216.63 L394.59,216.36 L396.10,216.40 L397.58,216.89 L399.06,217.71 L400.55,218.63 L402.10,219.40 L403.74,219.96 L405.44,220.44 L407.14,220.90 L408.80,221.40 L410.36,221.89 L411.87,222.36 L413.39,222.92 L415.00,223.70 L416.73,224.76 L418.54,226.04 L420.38,227.42 L422.20,228.80 L424.00,230.20 L425.80,231.65 L427.60,233.10 L429.40,234.50 L431.20,235.80 L432.99,237.04 L434.79,238.29 L436.60,239.60 L438.42,241.02 L440.25,242.51 L442.08,243.99 L443.90,245.40 L445.71,246.69 L447.51,247.92 L449.30,249.13 L451.10,250.40 L452.90,251.74 L454.70,253.13 L456.50,254.53 L458.30,255.90 L460.10,257.26 L461.90,258.62 L463.70,259.94 L465.50,261.20 L467.33,262.42 L469.19,263.61 L471.00,264.69 L472.70,265.60 L474.28,266.33 L475.78,266.93 L477.19,267.35 L478.50,267.60 L479.78,267.58 L481.01,267.33 L482.06,267.01 L482.80,266.80" fill="none" stroke="#78c266" stroke-width="1.15" stroke-linejoin="round" stroke-linecap="round"/>
<path d="M360.15,214.0H489.75 M360.15,289.3H489.75" stroke="#858585" stroke-width="1.6" fill="none"/>
<path d="M361.0,214.0V289.3 M488.9,214.0V289.3" stroke="#858585" stroke-width="1.7" fill="none"/>
<text x="355.2" y="270.1" font-size="8.0" text-anchor="end" textLength="9.9" lengthAdjust="spacingAndGlyphs">0.0</text>
<text x="355.2" y="261.2" font-size="8.0" text-anchor="end" textLength="9.9" lengthAdjust="spacingAndGlyphs">0.1</text>
<text x="355.2" y="252.3" font-size="8.0" text-anchor="end" textLength="9.9" lengthAdjust="spacingAndGlyphs">0.2</text>
<text x="355.2" y="243.4" font-size="8.0" text-anchor="end" textLength="9.9" lengthAdjust="spacingAndGlyphs">0.3</text>
<text x="355.2" y="234.5" font-size="8.0" text-anchor="end" textLength="9.9" lengthAdjust="spacingAndGlyphs">0.4</text>
<text x="355.2" y="225.6" font-size="8.0" text-anchor="end" textLength="9.9" lengthAdjust="spacingAndGlyphs">0.5</text>
<text x="355.2" y="216.7" font-size="8.0" text-anchor="end" textLength="9.9" lengthAdjust="spacingAndGlyphs">0.6</text>
<path d="M358.4,267.40H361.0 M358.4,258.50H361.0 M358.4,249.60H361.0 M358.4,240.70H361.0 M358.4,231.80H361.0 M358.4,222.90H361.0 M358.4,214.00H361.0" stroke="#333" stroke-width="0.8"/>
<text x="442.9" y="222.4" font-size="6.3" textLength="27.6" lengthAdjust="spacing" style="stroke-width:0.08px">NES: 3.20</text>
<text x="442.9" y="229.6" font-size="6.3" textLength="34.7" lengthAdjust="spacing" style="stroke-width:0.08px">FDR: &lt;0.001</text>
<text x="0" y="0" font-size="8.8" text-anchor="middle" textLength="62.4" lengthAdjust="spacingAndGlyphs" transform="translate(337.9,241.0) rotate(-90)">Enrichment score (ES)</text>
<text x="0" y="0" font-size="9.6" text-anchor="middle" textLength="32.5" lengthAdjust="spacingAndGlyphs" transform="translate(494.1,240.7) rotate(90)">Endocytosis</text>
<path d="M361.0,338.02H488.9 M361.0,328.64H488.9 M361.0,319.26H488.9 M361.0,309.88H488.9 M361.0,300.50H488.9 M382.10,296.4V349.7 M402.75,296.4V349.7 M423.40,296.4V349.7 M444.05,296.4V349.7 M464.70,296.4V349.7 M485.35,296.4V349.7" stroke="#f0f0f0" stroke-width="0.8" fill="none"/>
<line x1="361.0" y1="347.4" x2="488.9" y2="347.4" stroke="#c8c8c8" stroke-width="0.8"/>
<line x1="361.0" y1="349.7" x2="488.9" y2="349.7" stroke="#dcdcdc" stroke-width="0.6"/>
<rect x="361" y="350.2" width="1" height="17.20" fill="rgb(0,0,0)"/><rect x="362" y="350.2" width="1" height="17.20" fill="rgb(0,0,0)"/><rect x="363" y="350.2" width="1" height="17.20" fill="rgb(85,85,85)"/><rect x="364" y="350.2" width="1" height="17.20" fill="rgb(204,204,204)"/><rect x="365" y="350.2" width="1" height="17.20" fill="rgb(51,51,51)"/><rect x="366" y="350.2" width="1" height="17.20" fill="rgb(0,0,0)"/><rect x="367" y="350.2" width="1" height="17.20" fill="rgb(34,34,34)"/><rect x="368" y="350.2" width="1" height="17.20" fill="rgb(34,34,34)"/><rect x="369" y="350.2" width="1" height="17.20" fill="rgb(34,34,34)"/><rect x="370" y="350.2" width="1" height="17.20" fill="rgb(34,34,34)"/><rect x="371" y="350.2" width="1" height="17.20" fill="rgb(51,51,51)"/><rect x="372" y="350.2" width="1" height="17.20" fill="rgb(34,34,34)"/><rect x="373" y="350.2" width="1" height="17.20" fill="rgb(34,34,34)"/><rect x="374" y="350.2" width="1" height="17.20" fill="rgb(51,51,51)"/><rect x="375" y="350.2" width="1" height="17.20" fill="rgb(34,34,34)"/><rect x="376" y="350.2" width="1" height="17.20" fill="rgb(0,0,0)"/><rect x="377" y="350.2" width="1" height="17.20" fill="rgb(17,17,17)"/><rect x="378" y="350.2" width="1" height="17.20" fill="rgb(119,119,119)"/><rect x="379" y="350.2" width="1" height="17.20" fill="rgb(0,0,0)"/><rect x="380" y="350.2" width="1" height="17.20" fill="rgb(34,34,34)"/><rect x="381" y="350.2" width="1" height="17.20" fill="rgb(34,34,34)"/><rect x="382" y="350.2" width="1" height="17.20" fill="rgb(51,51,51)"/><rect x="383" y="350.2" width="1" height="17.20" fill="rgb(34,34,34)"/><rect x="384" y="350.2" width="1" height="17.20" fill="rgb(68,68,68)"/><rect x="385" y="350.2" width="1" height="17.20" fill="rgb(0,0,0)"/><rect x="386" y="350.2" width="1" height="17.20" fill="rgb(17,17,17)"/><rect x="387" y="350.2" width="1" height="17.20" fill="rgb(51,51,51)"/><rect x="388" y="350.2" width="1" height="17.20" fill="rgb(136,136,136)"/><rect x="389" y="350.2" width="1" height="17.20" fill="rgb(34,34,34)"/><rect x="390" y="350.2" width="1" height="17.20" fill="rgb(204,204,204)"/><rect x="391" y="350.2" width="1" height="17.20" fill="rgb(51,51,51)"/><rect x="392" y="350.2" width="1" height="17.20" fill="rgb(0,0,0)"/><rect x="393" y="350.2" width="1" height="17.20" fill="rgb(0,0,0)"/><rect x="394" y="350.2" width="1" height="17.20" fill="rgb(0,0,0)"/><rect x="395" y="350.2" width="1" height="17.20" fill="rgb(68,68,68)"/><rect x="396" y="350.2" width="1" height="17.20" fill="rgb(68,68,68)"/><rect x="397" y="350.2" width="1" height="17.20" fill="rgb(85,85,85)"/><rect x="398" y="350.2" width="1" height="17.20" fill="rgb(187,187,187)"/><rect x="399" y="350.2" width="1" height="17.20" fill="rgb(102,102,102)"/><rect x="400" y="350.2" width="1" height="17.20" fill="rgb(68,68,68)"/><rect x="401" y="350.2" width="1" height="17.20" fill="rgb(68,68,68)"/><rect x="402" y="350.2" width="1" height="17.20" fill="rgb(51,51,51)"/><rect x="403" y="350.2" width="1" height="17.20" fill="rgb(51,51,51)"/><rect x="404" y="350.2" width="1" height="17.20" fill="rgb(34,34,34)"/><rect x="405" y="350.2" width="1" height="17.20" fill="rgb(221,221,221)"/><rect x="406" y="350.2" width="1" height="17.20" fill="rgb(187,187,187)"/><rect x="407" y="350.2" width="1" height="17.20" fill="rgb(68,68,68)"/><rect x="408" y="350.2" width="1" height="17.20" fill="rgb(102,102,102)"/><rect x="409" y="350.2" width="1" height="17.20" fill="rgb(51,51,51)"/><rect x="410" y="350.2" width="1" height="17.20" fill="rgb(170,170,170)"/><rect x="412" y="350.2" width="1" height="17.20" fill="rgb(136,136,136)"/><rect x="413" y="350.2" width="1" height="17.20" fill="rgb(68,68,68)"/><rect x="414" y="350.2" width="1" height="17.20" fill="rgb(221,221,221)"/><rect x="415" y="350.2" width="1" height="17.20" fill="rgb(238,238,238)"/><rect x="416" y="350.2" width="1" height="17.20" fill="rgb(204,204,204)"/><rect x="417" y="350.2" width="1" height="17.20" fill="rgb(221,221,221)"/><rect x="418" y="350.2" width="1" height="17.20" fill="rgb(238,238,238)"/><rect x="419" y="350.2" width="1" height="17.20" fill="rgb(204,204,204)"/><rect x="420" y="350.2" width="1" height="17.20" fill="rgb(238,238,238)"/><rect x="421" y="350.2" width="1" height="17.20" fill="rgb(204,204,204)"/><rect x="422" y="350.2" width="1" height="17.20" fill="rgb(102,102,102)"/><rect x="446" y="350.2" width="1" height="17.20" fill="rgb(119,119,119)"/><rect x="447" y="350.2" width="1" height="17.20" fill="rgb(221,221,221)"/><rect x="448" y="350.2" width="1" height="17.20" fill="rgb(238,238,238)"/><rect x="449" y="350.2" width="1" height="17.20" fill="rgb(204,204,204)"/><rect x="450" y="350.2" width="1" height="17.20" fill="rgb(153,153,153)"/><rect x="452" y="350.2" width="1" height="17.20" fill="rgb(238,238,238)"/><rect x="453" y="350.2" width="1" height="17.20" fill="rgb(136,136,136)"/><rect x="454" y="350.2" width="1" height="17.20" fill="rgb(238,238,238)"/><rect x="455" y="350.2" width="1" height="17.20" fill="rgb(221,221,221)"/><rect x="456" y="350.2" width="1" height="17.20" fill="rgb(85,85,85)"/><rect x="461" y="350.2" width="1" height="17.20" fill="rgb(221,221,221)"/><rect x="462" y="350.2" width="1" height="17.20" fill="rgb(204,204,204)"/><rect x="463" y="350.2" width="1" height="17.20" fill="rgb(238,238,238)"/><rect x="464" y="350.2" width="1" height="17.20" fill="rgb(187,187,187)"/><rect x="465" y="350.2" width="1" height="17.20" fill="rgb(238,238,238)"/><rect x="466" y="350.2" width="1" height="17.20" fill="rgb(238,238,238)"/><rect x="467" y="350.2" width="1" height="17.20" fill="rgb(68,68,68)"/><rect x="468" y="350.2" width="1" height="17.20" fill="rgb(238,238,238)"/><rect x="470" y="350.2" width="1" height="17.20" fill="rgb(221,221,221)"/><rect x="471" y="350.2" width="1" height="17.20" fill="rgb(85,85,85)"/><rect x="472" y="350.2" width="1" height="17.20" fill="rgb(136,136,136)"/><rect x="473" y="350.2" width="1" height="17.20" fill="rgb(221,221,221)"/><rect x="474" y="350.2" width="1" height="17.20" fill="rgb(204,204,204)"/><rect x="475" y="350.2" width="1" height="17.20" fill="rgb(238,238,238)"/><rect x="476" y="350.2" width="1" height="17.20" fill="rgb(153,153,153)"/><rect x="477" y="350.2" width="1" height="17.20" fill="rgb(136,136,136)"/><rect x="478" y="350.2" width="1" height="17.20" fill="rgb(170,170,170)"/><rect x="479" y="350.2" width="1" height="17.20" fill="rgb(153,153,153)"/><rect x="480" y="350.2" width="1" height="17.20" fill="rgb(85,85,85)"/>
<path d="M360.50,347.40 L361.09,346.58 L361.93,345.39 L362.84,344.18 L363.60,343.30 L364.16,342.93 L364.62,342.85 L365.05,342.82 L365.50,342.60 L365.98,342.16 L366.46,341.62 L366.93,340.94 L367.40,340.10 L367.85,339.08 L368.30,337.91 L368.75,336.58 L369.20,335.10 L369.65,333.36 L370.11,331.40 L370.58,329.44 L371.10,327.70 L371.67,326.31 L372.28,325.13 L372.92,323.99 L373.60,322.70 L374.32,321.20 L375.07,319.59 L375.87,317.96 L376.70,316.40 L377.55,314.92 L378.43,313.47 L379.37,312.09 L380.40,310.80 L381.59,309.58 L382.89,308.42 L384.20,307.38 L385.40,306.50 L386.41,305.91 L387.30,305.54 L388.19,305.17 L389.20,304.60 L390.37,303.65 L391.63,302.47 L392.93,301.33 L394.20,300.50 L395.41,300.11 L396.61,300.00 L397.82,299.99 L399.10,299.90 L400.50,299.65 L401.99,299.35 L403.45,299.10 L404.80,299.00 L405.96,299.10 L406.99,299.34 L408.01,299.66 L409.10,300.00 L410.33,300.37 L411.62,300.80 L412.91,301.25 L414.10,301.70 L415.15,302.10 L416.10,302.48 L417.03,302.91 L418.00,303.50 L418.96,304.24 L419.89,305.11 L420.93,306.09 L422.20,307.20 L423.79,308.48 L425.61,309.92 L427.53,311.42 L429.40,312.90 L431.20,314.34 L432.99,315.79 L434.79,317.25 L436.60,318.70 L438.42,320.15 L440.25,321.61 L442.08,323.06 L443.90,324.50 L445.71,325.93 L447.51,327.35 L449.30,328.77 L451.10,330.20 L452.90,331.64 L454.70,333.09 L456.50,334.55 L458.30,336.00 L460.10,337.49 L461.90,339.02 L463.70,340.48 L465.50,341.80 L467.33,342.97 L469.19,344.04 L471.00,344.97 L472.70,345.70 L474.30,346.20 L475.82,346.51 L477.24,346.69 L478.50,346.80 L479.64,346.82 L480.66,346.72 L481.50,346.59 L482.10,346.50" fill="none" stroke="#78c266" stroke-width="1.15" stroke-linejoin="round" stroke-linecap="round"/>
<path d="M360.15,296.4H489.75 M360.15,367.4H489.75" stroke="#4d4d4d" stroke-width="1.1" fill="none"/>
<path d="M361.0,296.4V367.4 M488.9,296.4V367.4" stroke="#858585" stroke-width="1.7" fill="none"/>
<text x="355.2" y="350.1" font-size="8.0" text-anchor="end" textLength="9.9" lengthAdjust="spacingAndGlyphs">0.0</text>
<text x="355.2" y="340.72" font-size="8.0" text-anchor="end" textLength="9.9" lengthAdjust="spacingAndGlyphs">0.1</text>
<text x="355.2" y="331.34" font-size="8.0" text-anchor="end" textLength="9.9" lengthAdjust="spacingAndGlyphs">0.2</text>
<text x="355.2" y="321.96" font-size="8.0" text-anchor="end" textLength="9.9" lengthAdjust="spacingAndGlyphs">0.3</text>
<text x="355.2" y="312.58" font-size="8.0" text-anchor="end" textLength="9.9" lengthAdjust="spacingAndGlyphs">0.4</text>
<text x="355.2" y="303.2" font-size="8.0" text-anchor="end" textLength="9.9" lengthAdjust="spacingAndGlyphs">0.5</text>
<path d="M358.4,347.40H361.0 M358.4,338.02H361.0 M358.4,328.64H361.0 M358.4,319.26H361.0 M358.4,309.88H361.0 M358.4,300.50H361.0" stroke="#333" stroke-width="0.8"/>
<text x="442.9" y="305.4" font-size="6.3" textLength="27.6" lengthAdjust="spacing" style="stroke-width:0.08px">NES: 2.88</text>
<text x="442.9" y="312.6" font-size="6.3" textLength="34.7" lengthAdjust="spacing" style="stroke-width:0.08px">FDR: &lt;0.001</text>
<text x="0" y="0" font-size="8.8" text-anchor="middle" textLength="62.4" lengthAdjust="spacingAndGlyphs" transform="translate(337.9,323.4) rotate(-90)">Enrichment score (ES)</text>
<text x="0" y="0" font-size="9.6" text-anchor="middle" textLength="47.6" lengthAdjust="spacingAndGlyphs" transform="translate(504.9,324.4) rotate(90)">Vesicle-mediated</text>
<text x="0" y="0" font-size="9.6" text-anchor="middle" textLength="26.6" lengthAdjust="spacingAndGlyphs" transform="translate(495.2,324.4) rotate(90)">transport</text>
<line x1="380.8" y1="376.6" x2="385.6" y2="376.6" stroke="#5cb84a" stroke-width="1.3"/>
<text x="389.7" y="379.4" font-size="7.5" textLength="54.2" lengthAdjust="spacingAndGlyphs">Enrichment profile</text>
<line x1="450" y1="376.6" x2="454.2" y2="376.6" stroke="#222" stroke-width="1.1"/>
<text x="458.2" y="379.4" font-size="7.5" textLength="11.4" lengthAdjust="spacingAndGlyphs">Hits</text>
</svg>
</body></html>
